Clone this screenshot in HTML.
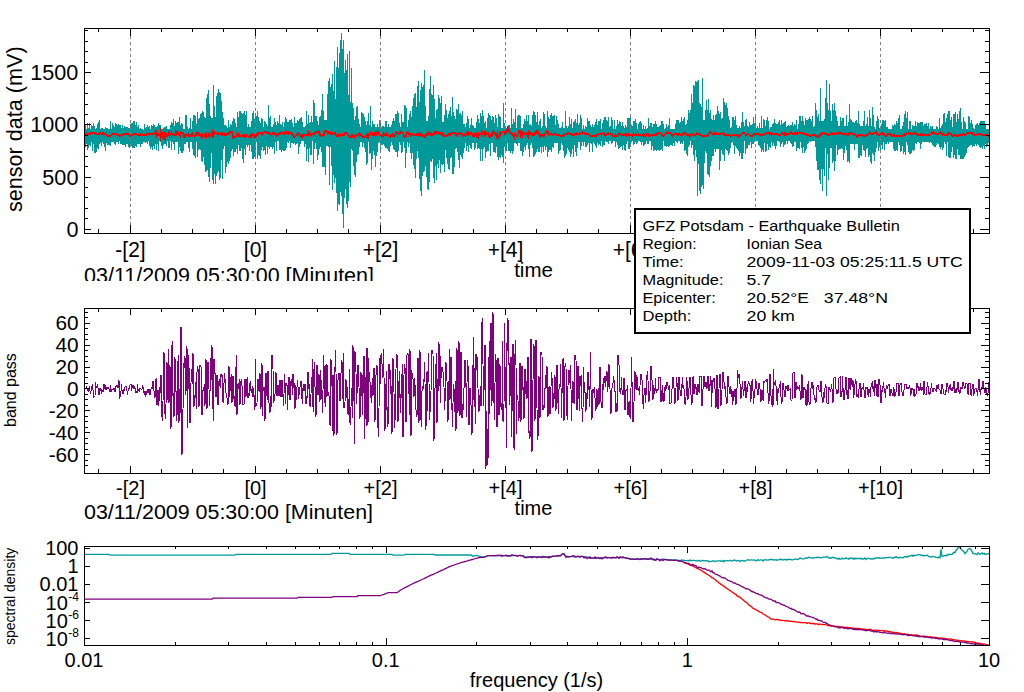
<!DOCTYPE html>
<html><head><meta charset="utf-8"><style>html,body{margin:0;padding:0;background:#fff;}svg{display:block}</style></head>
<body><svg width="1024" height="692" viewBox="0 0 1024 692" font-family="'Liberation Sans', sans-serif" fill="#000">
<rect width="1024" height="692" fill="#fff"/>
<path d="M85.5 124V147M86.5 129V144M87.5 123V150M88.5 128V148M89.5 123V145M90.5 129V146M91.5 125V142M92.5 126V151M93.5 123V144M94.5 126V153M95.5 129V153M96.5 128V152M97.5 124V148M98.5 122V149M99.5 120V144M100.5 129V143M101.5 128V146M102.5 128V142M103.5 129V144M104.5 129V147M105.5 127V151M106.5 128V143M107.5 128V145M108.5 129V145M109.5 129V145M110.5 121V146M111.5 129V142M112.5 123V142M113.5 125V142M114.5 127V144M115.5 123V145M116.5 124V142M117.5 125V142M118.5 124V144M119.5 125V141M120.5 125V144M121.5 128V144M122.5 125V145M123.5 128V145M124.5 126V145M125.5 127V147M126.5 127V144M127.5 127V144M128.5 128V147M129.5 128V148M130.5 124V146M131.5 123V146M132.5 123V148M133.5 121V148M134.5 121V148M135.5 125V146M136.5 122V147M137.5 127V144M138.5 125V144M139.5 129V144M140.5 128V147M141.5 129V144M142.5 129V144M143.5 130V142M144.5 124V142M145.5 128V143M146.5 127V142M147.5 125V144M148.5 127V141M149.5 126V146M150.5 129V149M151.5 125V147M152.5 126V150M153.5 124V146M154.5 125V149M155.5 127V144M156.5 127V150M157.5 126V144M158.5 123V151M159.5 125V141M160.5 125V142M161.5 129V146M162.5 129V149M163.5 128V145M164.5 127V144M165.5 127V144M166.5 126V146M167.5 129V141M168.5 129V148M169.5 129V148M170.5 125V141M171.5 122V150M172.5 123V142M173.5 119V144M174.5 126V150M175.5 121V142M176.5 123V142M177.5 122V142M178.5 122V154M179.5 117V147M180.5 125V151M181.5 123V153M182.5 124V153M183.5 129V151M184.5 129V144M185.5 115V144M186.5 115V142M187.5 127V142M188.5 129V148M189.5 128V152M190.5 118V142M191.5 129V142M192.5 121V149M193.5 115V155M194.5 115V156M195.5 116V158M196.5 124V142M197.5 112V157M198.5 119V150M199.5 118V149M200.5 114V150M201.5 113V161M202.5 111V162M203.5 112V157M204.5 117V165M205.5 118V172M206.5 98V171M207.5 94V170M208.5 90V177M209.5 104V182M210.5 116V168M211.5 118V153M212.5 118V180M213.5 85V184M214.5 106V174M215.5 117V184M216.5 96V176M217.5 93V173M218.5 89V171M219.5 92V180M220.5 93V178M221.5 101V160M222.5 112V179M223.5 118V149M224.5 125V146M225.5 125V173M226.5 126V167M227.5 128V162M228.5 120V164M229.5 127V161M230.5 124V158M231.5 125V151M232.5 121V149M233.5 118V156M234.5 119V152M235.5 123V152M236.5 127V149M237.5 112V154M238.5 117V145M239.5 111V151M240.5 111V151M241.5 113V148M242.5 114V159M243.5 113V163M244.5 111V149M245.5 115V155M246.5 111V145M247.5 127V147M248.5 124V145M249.5 127V151M250.5 127V145M251.5 121V152M252.5 113V159M253.5 111V159M254.5 119V157M255.5 113V158M256.5 116V142M257.5 111V159M258.5 117V155M259.5 121V156M260.5 123V159M261.5 118V150M262.5 119V147M263.5 127V151M264.5 121V150M265.5 122V155M266.5 124V146M267.5 126V154M268.5 105V147M269.5 118V149M270.5 116V147M271.5 127V147M272.5 127V149M273.5 124V147M274.5 118V154M275.5 122V142M276.5 125V151M277.5 121V141M278.5 123V141M279.5 115V150M280.5 124V150M281.5 125V152M282.5 122V150M283.5 127V151M284.5 122V151M285.5 117V150M286.5 119V148M287.5 122V142M288.5 122V143M289.5 120V141M290.5 120V148M291.5 119V143M292.5 123V143M293.5 127V144M294.5 117V143M295.5 123V145M296.5 123V144M297.5 120V143M298.5 121V154M299.5 119V147M300.5 118V144M301.5 117V141M302.5 122V141M303.5 127V141M304.5 127V147M305.5 126V144M306.5 111V161M307.5 124V149M308.5 115V162M309.5 123V148M310.5 122V155M311.5 116V155M312.5 122V141M313.5 100V164M314.5 103V149M315.5 116V143M316.5 116V149M317.5 121V160M318.5 125V155M319.5 117V149M320.5 116V147M321.5 110V152M322.5 94V167M323.5 111V167M324.5 120V167M325.5 120V175M326.5 120V146M327.5 94V146M328.5 81V147M329.5 78V185M330.5 87V147M331.5 84V166M332.5 74V190M333.5 91V175M334.5 61V183M335.5 99V178M336.5 67V193M337.5 47V211M338.5 68V204M339.5 53V205M340.5 40V192M341.5 33V196M342.5 49V214M343.5 40V228M344.5 73V198M345.5 60V189M346.5 70V204M347.5 54V208M348.5 95V201M349.5 51V182M350.5 102V187M351.5 68V149M352.5 103V151M353.5 108V166M354.5 120V175M355.5 116V177M356.5 107V162M357.5 106V155M358.5 119V154M359.5 124V147M360.5 127V142M361.5 112V142M362.5 113V147M363.5 114V143M364.5 117V148M365.5 121V152M366.5 125V165M367.5 121V163M368.5 113V142M369.5 125V154M370.5 106V153M371.5 127V170M372.5 121V159M373.5 124V151M374.5 124V155M375.5 127V167M376.5 127V156M377.5 124V152M378.5 127V143M379.5 120V142M380.5 121V150M381.5 127V145M382.5 126V145M383.5 126V144M384.5 127V146M385.5 121V148M386.5 121V148M387.5 127V149M388.5 124V151M389.5 127V152M390.5 127V146M391.5 125V142M392.5 121V145M393.5 118V149M394.5 121V150M395.5 114V152M396.5 114V152M397.5 111V157M398.5 113V151M399.5 123V142M400.5 127V145M401.5 114V153M402.5 122V152M403.5 122V142M404.5 105V148M405.5 106V168M406.5 108V153M407.5 127V142M408.5 120V147M409.5 114V143M410.5 111V153M411.5 117V159M412.5 106V153M413.5 98V165M414.5 94V169M415.5 93V178M416.5 107V159M417.5 86V151M418.5 81V158M419.5 102V179M420.5 90V191M421.5 83V196M422.5 87V176M423.5 85V172M424.5 70V171M425.5 106V166M426.5 121V177M427.5 121V189M428.5 116V190M429.5 89V182M430.5 76V161M431.5 94V162M432.5 95V159M433.5 85V178M434.5 99V183M435.5 118V166M436.5 110V180M437.5 109V164M438.5 95V168M439.5 98V160M440.5 103V173M441.5 96V164M442.5 122V165M443.5 122V164M444.5 115V172M445.5 104V150M446.5 110V158M447.5 118V164M448.5 114V169M449.5 111V170M450.5 107V158M451.5 116V157M452.5 97V174M453.5 112V174M454.5 116V167M455.5 119V149M456.5 109V148M457.5 110V152M458.5 104V160M459.5 114V168M460.5 113V155M461.5 115V157M462.5 111V159M463.5 124V153M464.5 124V148M465.5 127V143M466.5 123V151M467.5 116V146M468.5 119V152M469.5 128V145M470.5 125V148M471.5 118V149M472.5 125V143M473.5 126V143M474.5 128V150M475.5 128V148M476.5 122V143M477.5 115V149M478.5 119V148M479.5 123V149M480.5 113V161M481.5 116V149M482.5 110V161M483.5 116V149M484.5 123V147M485.5 121V158M486.5 128V152M487.5 118V151M488.5 113V151M489.5 115V144M490.5 116V156M491.5 120V143M492.5 116V143M493.5 117V152M494.5 123V152M495.5 115V153M496.5 118V147M497.5 127V157M498.5 114V160M499.5 116V157M500.5 117V158M501.5 128V155M502.5 128V157M503.5 103V163M504.5 123V147M505.5 128V152M506.5 128V151M507.5 127V143M508.5 125V151M509.5 125V151M510.5 128V153M511.5 108V151M512.5 124V154M513.5 119V151M514.5 122V143M515.5 109V143M516.5 128V144M517.5 116V146M518.5 115V143M519.5 115V143M520.5 116V151M521.5 128V151M522.5 128V156M523.5 124V152M524.5 119V147M525.5 121V150M526.5 115V145M527.5 121V143M528.5 115V149M529.5 125V157M530.5 124V145M531.5 126V143M532.5 115V148M533.5 111V157M534.5 112V156M535.5 115V154M536.5 122V152M537.5 112V149M538.5 125V152M539.5 121V152M540.5 119V147M541.5 128V153M542.5 126V147M543.5 112V152M544.5 114V146M545.5 126V150M546.5 128V147M547.5 111V157M548.5 117V152M549.5 119V150M550.5 115V150M551.5 113V152M552.5 116V147M553.5 116V148M554.5 115V143M555.5 125V143M556.5 116V143M557.5 120V143M558.5 124V154M559.5 128V151M560.5 128V150M561.5 127V143M562.5 122V145M563.5 128V151M564.5 128V158M565.5 111V156M566.5 126V154M567.5 128V148M568.5 126V150M569.5 117V152M570.5 124V157M571.5 119V154M572.5 128V149M573.5 122V157M574.5 121V145M575.5 119V152M576.5 123V156M577.5 114V148M578.5 125V142M579.5 123V142M580.5 115V150M581.5 118V146M582.5 129V142M583.5 125V146M584.5 129V142M585.5 126V147M586.5 127V147M587.5 118V145M588.5 121V143M589.5 121V152M590.5 125V143M591.5 127V144M592.5 124V152M593.5 127V142M594.5 125V144M595.5 122V146M596.5 119V148M597.5 125V143M598.5 121V145M599.5 121V144M600.5 119V146M601.5 129V141M602.5 123V147M603.5 120V145M604.5 117V145M605.5 117V141M606.5 120V142M607.5 121V142M608.5 117V144M609.5 127V141M610.5 126V141M611.5 117V144M612.5 120V143M613.5 129V141M614.5 120V141M615.5 129V147M616.5 126V142M617.5 120V145M618.5 124V149M619.5 121V148M620.5 122V147M621.5 126V146M622.5 122V150M623.5 126V145M624.5 128V150M625.5 125V151M626.5 127V144M627.5 118V141M628.5 118V149M629.5 118V149M630.5 117V146M631.5 125V142M632.5 126V141M633.5 121V145M634.5 121V144M635.5 119V142M636.5 123V144M637.5 129V143M638.5 124V141M639.5 122V141M640.5 121V142M641.5 123V145M642.5 129V142M643.5 125V146M644.5 129V145M645.5 126V144M646.5 129V141M647.5 128V144M648.5 118V144M649.5 126V141M650.5 123V141M651.5 123V150M652.5 127V146M653.5 124V151M654.5 124V150M655.5 121V150M656.5 124V151M657.5 127V150M658.5 127V150M659.5 126V151M660.5 125V150M661.5 121V149M662.5 121V151M663.5 124V141M664.5 129V146M665.5 128V146M666.5 124V147M667.5 127V146M668.5 125V147M669.5 118V146M670.5 129V145M671.5 129V145M672.5 129V146M673.5 129V143M674.5 129V146M675.5 124V141M676.5 120V142M677.5 120V143M678.5 120V141M679.5 123V141M680.5 122V144M681.5 117V143M682.5 121V144M683.5 119V141M684.5 117V151M685.5 125V150M686.5 124V154M687.5 120V156M688.5 110V147M689.5 113V145M690.5 110V141M691.5 94V148M692.5 103V145M693.5 85V155M694.5 86V161M695.5 81V150M696.5 82V157M697.5 81V196M698.5 80V164M699.5 103V191M700.5 104V194M701.5 107V187M702.5 78V185M703.5 120V189M704.5 120V163M705.5 110V151M706.5 100V153M707.5 110V174M708.5 99V175M709.5 113V177M710.5 110V166M711.5 119V161M712.5 120V156M713.5 115V156M714.5 120V149M715.5 115V152M716.5 114V149M717.5 106V149M718.5 111V149M719.5 114V170M720.5 112V161M721.5 119V150M722.5 118V154M723.5 98V155M724.5 102V161M725.5 105V149M726.5 103V150M727.5 108V151M728.5 116V155M729.5 120V153M730.5 128V148M731.5 127V143M732.5 117V142M733.5 117V145M734.5 120V154M735.5 116V146M736.5 125V148M737.5 128V149M738.5 128V151M739.5 126V156M740.5 128V153M741.5 122V159M742.5 112V159M743.5 122V153M744.5 126V141M745.5 120V154M746.5 119V149M747.5 126V148M748.5 127V145M749.5 122V145M750.5 125V142M751.5 125V148M752.5 124V144M753.5 117V144M754.5 123V142M755.5 115V141M756.5 128V141M757.5 126V141M758.5 128V145M759.5 123V146M760.5 128V148M761.5 116V152M762.5 128V150M763.5 119V152M764.5 120V143M765.5 126V152M766.5 120V151M767.5 117V144M768.5 121V150M769.5 129V147M770.5 127V148M771.5 127V142M772.5 124V146M773.5 123V143M774.5 119V146M775.5 123V149M776.5 124V146M777.5 124V141M778.5 122V141M779.5 120V142M780.5 125V147M781.5 120V144M782.5 124V142M783.5 123V147M784.5 122V145M785.5 121V144M786.5 127V141M787.5 126V144M788.5 125V141M789.5 126V141M790.5 125V143M791.5 125V144M792.5 122V147M793.5 126V146M794.5 124V142M795.5 125V142M796.5 120V151M797.5 129V148M798.5 124V148M799.5 116V149M800.5 116V142M801.5 121V148M802.5 116V153M803.5 121V147M804.5 125V153M805.5 118V151M806.5 120V149M807.5 120V144M808.5 119V143M809.5 117V141M810.5 119V142M811.5 121V141M812.5 116V141M813.5 127V141M814.5 126V141M815.5 103V147M816.5 110V161M817.5 117V170M818.5 114V170M819.5 121V180M820.5 88V184M821.5 121V169M822.5 121V191M823.5 121V169M824.5 119V176M825.5 98V148M826.5 80V196M827.5 103V154M828.5 110V180M829.5 84V168M830.5 111V148M831.5 121V148M832.5 104V163M833.5 110V161M834.5 103V171M835.5 111V161M836.5 116V145M837.5 121V155M838.5 126V150M839.5 126V149M840.5 117V149M841.5 121V148M842.5 118V149M843.5 118V160M844.5 126V153M845.5 126V146M846.5 115V150M847.5 126V162M848.5 122V161M849.5 104V163M850.5 119V144M851.5 120V144M852.5 122V144M853.5 122V144M854.5 123V150M855.5 121V144M856.5 120V144M857.5 123V144M858.5 111V158M859.5 124V158M860.5 126V155M861.5 126V156M862.5 126V145M863.5 121V150M864.5 111V151M865.5 126V157M866.5 124V149M867.5 117V148M868.5 126V157M869.5 110V155M870.5 118V162M871.5 126V164M872.5 107V153M873.5 115V155M874.5 127V161M875.5 129V152M876.5 121V148M877.5 116V142M878.5 119V151M879.5 128V147M880.5 127V152M881.5 124V145M882.5 120V149M883.5 120V142M884.5 121V150M885.5 120V144M886.5 127V144M887.5 127V142M888.5 129V144M889.5 129V142M890.5 129V142M891.5 129V142M892.5 125V142M893.5 126V149M894.5 124V151M895.5 125V151M896.5 121V150M897.5 123V151M898.5 118V142M899.5 115V145M900.5 129V152M901.5 129V151M902.5 126V146M903.5 122V154M904.5 114V152M905.5 111V155M906.5 118V142M907.5 112V145M908.5 129V152M909.5 121V154M910.5 121V154M911.5 129V153M912.5 125V150M913.5 126V151M914.5 126V150M915.5 121V143M916.5 126V144M917.5 122V142M918.5 123V142M919.5 123V143M920.5 122V149M921.5 122V144M922.5 122V142M923.5 126V142M924.5 124V142M925.5 124V142M926.5 123V142M927.5 126V142M928.5 123V142M929.5 129V143M930.5 126V142M931.5 127V143M932.5 126V145M933.5 129V146M934.5 129V147M935.5 129V147M936.5 126V145M937.5 127V143M938.5 129V144M939.5 118V147M940.5 128V149M941.5 126V147M942.5 124V150M943.5 114V148M944.5 113V142M945.5 122V144M946.5 118V156M947.5 114V142M948.5 111V157M949.5 111V158M950.5 120V158M951.5 117V152M952.5 127V147M953.5 114V158M954.5 114V155M955.5 112V159M956.5 122V159M957.5 114V149M958.5 119V155M959.5 111V155M960.5 108V159M961.5 122V159M962.5 129V159M963.5 117V159M964.5 121V157M965.5 123V155M966.5 129V153M967.5 129V148M968.5 116V147M969.5 117V146M970.5 123V145M971.5 120V145M972.5 124V147M973.5 128V146M974.5 129V146M975.5 125V144M976.5 124V146M977.5 123V144M978.5 125V145M979.5 123V147M980.5 121V148M981.5 121V147M982.5 121V149M983.5 121V146M984.5 121V149M985.5 125V144M986.5 129V147M987.5 129V146M988.5 129V143" stroke="#009999" fill="none" shape-rendering="crispEdges"/>
<path d="M130.5 36V225M255.5 36V225M380.5 36V225M505.5 36V225M630.5 36V225M755.5 36V225M880.5 36V225" stroke="#808080" stroke-dasharray="3 3" fill="none"/>
<path d="M85.5 133V135M86.5 133V135M87.5 133V135M88.5 133V135M89.5 133V135M90.5 132V135M91.5 132V134M92.5 132V134M93.5 132V134M94.5 132V134M95.5 133V135M96.5 133V135M97.5 134V136M98.5 133V135M99.5 132V135M100.5 132V134M101.5 133V135M102.5 132V135M103.5 132V135M104.5 133V135M105.5 133V135M106.5 134V136M107.5 135V137M108.5 135V137M109.5 135V137M110.5 135V137M111.5 134V136M112.5 133V135M113.5 133V135M114.5 133V135M115.5 133V135M116.5 133V135M117.5 134V136M118.5 134V136M119.5 135V137M120.5 135V137M121.5 134V136M122.5 134V136M123.5 133V135M124.5 133V135M125.5 133V135M126.5 133V135M127.5 133V135M128.5 133V135M129.5 134V137M130.5 135V137M131.5 134V136M132.5 134V136M133.5 133V135M134.5 133V135M135.5 133V135M136.5 133V135M137.5 134V136M138.5 134V136M139.5 134V136M140.5 133V136M141.5 134V136M142.5 134V136M143.5 134V136M144.5 134V136M145.5 134V136M146.5 133V136M147.5 133V135M148.5 133V135M149.5 132V135M150.5 133V135M151.5 133V135M152.5 133V135M153.5 133V135M154.5 132V134M155.5 131V135M156.5 130V138M157.5 133V136M158.5 133V136M159.5 134V136M160.5 128V141M161.5 132V138M162.5 132V138M163.5 131V140M164.5 132V140M165.5 129V143M166.5 133V137M167.5 134V137M168.5 131V136M169.5 131V137M170.5 133V135M171.5 130V138M172.5 133V135M173.5 133V137M174.5 134V136M175.5 129V136M176.5 131V136M177.5 130V135M178.5 132V135M179.5 133V136M180.5 131V138M181.5 132V135M182.5 132V134M183.5 132V138M184.5 134V138M185.5 134V138M186.5 134V136M187.5 134V136M188.5 133V137M189.5 134V138M190.5 135V137M191.5 133V136M192.5 132V137M193.5 134V136M194.5 135V137M195.5 133V138M196.5 132V136M197.5 131V135M198.5 132V136M199.5 133V136M200.5 134V137M201.5 134V138M202.5 133V139M203.5 135V137M204.5 134V137M205.5 133V138M206.5 132V139M207.5 135V137M208.5 133V137M209.5 132V139M210.5 134V136M211.5 132V137M212.5 129V138M213.5 131V138M214.5 131V135M215.5 132V134M216.5 132V134M217.5 133V137M218.5 132V135M219.5 133V135M220.5 133V135M221.5 132V135M222.5 132V136M223.5 133V135M224.5 133V136M225.5 134V136M226.5 133V136M227.5 133V135M228.5 132V135M229.5 130V135M230.5 131V133M231.5 131V134M232.5 131V139M233.5 135V139M234.5 136V138M235.5 136V138M236.5 133V137M237.5 134V136M238.5 132V137M239.5 134V138M240.5 135V137M241.5 135V137M242.5 134V137M243.5 135V137M244.5 134V138M245.5 134V138M246.5 134V137M247.5 135V137M248.5 136V138M249.5 135V138M250.5 134V138M251.5 133V138M252.5 133V136M253.5 134V137M254.5 134V139M255.5 134V138M256.5 133V137M257.5 133V136M258.5 132V135M259.5 131V134M260.5 132V134M261.5 132V135M262.5 132V136M263.5 132V134M264.5 131V133M265.5 131V133M266.5 132V134M267.5 131V134M268.5 132V134M269.5 131V137M270.5 133V135M271.5 134V136M272.5 132V135M273.5 132V134M274.5 132V135M275.5 133V135M276.5 134V137M277.5 133V136M278.5 133V135M279.5 132V135M280.5 132V135M281.5 131V134M282.5 132V134M283.5 132V135M284.5 131V135M285.5 132V134M286.5 131V134M287.5 132V134M288.5 131V135M289.5 132V134M290.5 132V134M291.5 132V135M292.5 133V136M293.5 134V138M294.5 136V138M295.5 135V137M296.5 134V136M297.5 133V136M298.5 132V135M299.5 133V137M300.5 135V137M301.5 134V138M302.5 134V139M303.5 134V137M304.5 134V136M305.5 134V137M306.5 134V136M307.5 133V136M308.5 130V136M309.5 132V135M310.5 133V137M311.5 134V136M312.5 133V135M313.5 133V136M314.5 132V135M315.5 131V134M316.5 131V133M317.5 130V133M318.5 131V134M319.5 130V136M320.5 133V136M321.5 135V137M322.5 134V137M323.5 133V136M324.5 130V136M325.5 130V133M326.5 130V132M327.5 131V134M328.5 131V134M329.5 132V134M330.5 131V135M331.5 132V135M332.5 132V135M333.5 133V135M334.5 132V134M335.5 132V136M336.5 134V137M337.5 135V137M338.5 133V137M339.5 134V136M340.5 134V137M341.5 134V136M342.5 133V136M343.5 134V136M344.5 132V136M345.5 132V134M346.5 132V134M347.5 133V135M348.5 134V137M349.5 135V138M350.5 136V138M351.5 134V138M352.5 134V138M353.5 135V137M354.5 135V139M355.5 135V137M356.5 134V137M357.5 134V136M358.5 133V135M359.5 132V138M360.5 133V136M361.5 134V137M362.5 135V138M363.5 136V138M364.5 136V138M365.5 135V138M366.5 134V137M367.5 133V139M368.5 133V139M369.5 134V136M370.5 131V135M371.5 133V135M372.5 132V136M373.5 133V136M374.5 132V136M375.5 131V137M376.5 132V136M377.5 130V134M378.5 131V135M379.5 132V135M380.5 134V136M381.5 134V138M382.5 135V137M383.5 132V137M384.5 133V136M385.5 134V136M386.5 132V136M387.5 133V136M388.5 135V137M389.5 135V137M390.5 134V138M391.5 134V137M392.5 133V137M393.5 133V137M394.5 135V137M395.5 132V136M396.5 131V134M397.5 132V135M398.5 133V135M399.5 131V134M400.5 131V134M401.5 131V133M402.5 132V134M403.5 133V137M404.5 135V138M405.5 135V137M406.5 131V137M407.5 132V134M408.5 132V135M409.5 133V135M410.5 133V137M411.5 134V136M412.5 133V135M413.5 134V136M414.5 134V136M415.5 134V136M416.5 133V136M417.5 132V137M418.5 133V136M419.5 131V137M420.5 133V136M421.5 132V136M422.5 134V137M423.5 135V137M424.5 135V138M425.5 134V138M426.5 133V136M427.5 133V136M428.5 131V135M429.5 132V135M430.5 133V136M431.5 132V137M432.5 133V136M433.5 133V135M434.5 131V135M435.5 131V135M436.5 131V134M437.5 131V133M438.5 132V134M439.5 131V135M440.5 132V135M441.5 133V136M442.5 132V136M443.5 133V137M444.5 135V137M445.5 134V137M446.5 135V137M447.5 134V136M448.5 133V136M449.5 132V135M450.5 133V136M451.5 132V135M452.5 132V134M453.5 131V134M454.5 132V134M455.5 132V136M456.5 133V137M457.5 132V136M458.5 133V135M459.5 131V135M460.5 132V134M461.5 132V135M462.5 133V137M463.5 134V136M464.5 134V136M465.5 133V137M466.5 132V135M467.5 131V136M468.5 131V136M469.5 132V135M470.5 132V135M471.5 132V135M472.5 133V137M473.5 134V137M474.5 133V137M475.5 133V136M476.5 132V137M477.5 134V138M478.5 132V139M479.5 134V136M480.5 133V135M481.5 131V137M482.5 130V135M483.5 132V135M484.5 131V137M485.5 131V136M486.5 132V135M487.5 133V135M488.5 132V137M489.5 134V139M490.5 134V138M491.5 133V137M492.5 131V136M493.5 129V135M494.5 132V134M495.5 132V136M496.5 133V139M497.5 131V141M498.5 135V138M499.5 132V140M500.5 131V136M501.5 132V134M502.5 131V133M503.5 130V132M504.5 131V135M505.5 130V135M506.5 129V133M507.5 126V134M508.5 127V132M509.5 129V133M510.5 132V134M511.5 132V135M512.5 133V136M513.5 135V137M514.5 132V140M515.5 134V136M516.5 135V137M517.5 134V137M518.5 130V135M519.5 130V134M520.5 130V138M521.5 131V136M522.5 131V138M523.5 132V135M524.5 133V135M525.5 133V136M526.5 132V135M527.5 132V137M528.5 130V139M529.5 132V136M530.5 132V135M531.5 132V135M532.5 133V136M533.5 133V137M534.5 132V136M535.5 131V135M536.5 130V134M537.5 129V134M538.5 131V135M539.5 133V137M540.5 134V138M541.5 134V137M542.5 134V136M543.5 134V137M544.5 133V137M545.5 132V135M546.5 130V133M547.5 131V134M548.5 131V136M549.5 133V135M550.5 133V135M551.5 133V135M552.5 134V136M553.5 133V135M554.5 133V135M555.5 133V135M556.5 134V136M557.5 134V136M558.5 134V136M559.5 134V136M560.5 135V137M561.5 135V137M562.5 135V137M563.5 133V137M564.5 134V136M565.5 133V135M566.5 133V135M567.5 132V135M568.5 132V134M569.5 133V135M570.5 133V135M571.5 133V135M572.5 134V136M573.5 134V136M574.5 133V136M575.5 133V135M576.5 132V135M577.5 133V135M578.5 133V135M579.5 133V135M580.5 133V135M581.5 132V134M582.5 131V134M583.5 132V134M584.5 132V135M585.5 133V135M586.5 133V135M587.5 133V135M588.5 133V135M589.5 134V136M590.5 135V137M591.5 135V137M592.5 135V137M593.5 135V137M594.5 135V137M595.5 135V138M596.5 134V137M597.5 134V136M598.5 133V135M599.5 133V135M600.5 133V135M601.5 133V135M602.5 132V134M603.5 133V135M604.5 133V136M605.5 133V137M606.5 134V136M607.5 133V135M608.5 132V135M609.5 133V135M610.5 133V135M611.5 133V135M612.5 134V137M613.5 135V137M614.5 135V137M615.5 133V138M616.5 135V137M617.5 134V137M618.5 133V135M619.5 132V136M620.5 133V135M621.5 134V137M622.5 134V136M623.5 134V136M624.5 134V136M625.5 133V136M626.5 133V137M627.5 134V136M628.5 133V136M629.5 134V136M630.5 134V136M631.5 134V136M632.5 134V137M633.5 133V136M634.5 134V136M635.5 134V136M636.5 133V136M637.5 134V136M638.5 134V136M639.5 134V136M640.5 134V136M641.5 135V137M642.5 134V136M643.5 133V137M644.5 134V137M645.5 135V137M646.5 133V136M647.5 133V135M648.5 133V137M649.5 134V136M650.5 135V137M651.5 134V136M652.5 134V136M653.5 134V136M654.5 134V136M655.5 133V136M656.5 133V136M657.5 132V135M658.5 132V134M659.5 131V133M660.5 132V134M661.5 133V136M662.5 134V137M663.5 135V137M664.5 134V136M665.5 133V135M666.5 131V134M667.5 132V134M668.5 132V134M669.5 131V134M670.5 132V134M671.5 133V136M672.5 134V137M673.5 134V136M674.5 133V135M675.5 133V135M676.5 133V135M677.5 133V136M678.5 133V136M679.5 133V135M680.5 134V136M681.5 134V136M682.5 133V136M683.5 132V135M684.5 132V134M685.5 132V134M686.5 133V136M687.5 134V136M688.5 134V136M689.5 135V137M690.5 134V137M691.5 133V136M692.5 133V135M693.5 134V136M694.5 134V136M695.5 134V136M696.5 132V135M697.5 133V135M698.5 133V135M699.5 133V136M700.5 134V136M701.5 135V137M702.5 135V137M703.5 135V138M704.5 135V137M705.5 135V137M706.5 135V137M707.5 134V137M708.5 133V136M709.5 131V134M710.5 131V133M711.5 132V134M712.5 133V135M713.5 133V136M714.5 132V135M715.5 133V135M716.5 132V135M717.5 133V135M718.5 133V135M719.5 133V136M720.5 133V135M721.5 133V135M722.5 132V134M723.5 133V135M724.5 133V136M725.5 134V136M726.5 134V136M727.5 134V136M728.5 134V136M729.5 134V136M730.5 135V137M731.5 135V137M732.5 134V136M733.5 134V136M734.5 134V136M735.5 134V136M736.5 134V136M737.5 134V137M738.5 135V138M739.5 134V137M740.5 134V136M741.5 133V135M742.5 132V134M743.5 131V134M744.5 132V134M745.5 133V136M746.5 134V136M747.5 133V135M748.5 133V135M749.5 134V136M750.5 135V137M751.5 135V137M752.5 135V137M753.5 133V136M754.5 133V135M755.5 133V136M756.5 133V135M757.5 133V135M758.5 133V135M759.5 134V136M760.5 134V136M761.5 134V136M762.5 134V136M763.5 134V136M764.5 133V135M765.5 133V135M766.5 132V134M767.5 132V134M768.5 132V134M769.5 132V135M770.5 132V135M771.5 132V136M772.5 133V135M773.5 133V135M774.5 133V135M775.5 133V135M776.5 133V135M777.5 133V135M778.5 134V136M779.5 134V136M780.5 134V136M781.5 132V135M782.5 132V134M783.5 133V135M784.5 132V136M785.5 132V136M786.5 133V136M787.5 133V135M788.5 133V135M789.5 133V135M790.5 131V134M791.5 132V134M792.5 133V135M793.5 133V135M794.5 132V135M795.5 132V135M796.5 132V135M797.5 132V135M798.5 132V134M799.5 131V133M800.5 132V134M801.5 132V134M802.5 132V134M803.5 133V135M804.5 133V135M805.5 133V135M806.5 133V136M807.5 134V136M808.5 134V136M809.5 135V137M810.5 135V137M811.5 135V137M812.5 134V136M813.5 134V136M814.5 134V136M815.5 134V137M816.5 135V137M817.5 135V138M818.5 136V138M819.5 134V137M820.5 133V136M821.5 133V135M822.5 132V135M823.5 132V134M824.5 132V134M825.5 133V135M826.5 133V135M827.5 134V136M828.5 134V136M829.5 134V136M830.5 133V135M831.5 132V134M832.5 132V135M833.5 133V135M834.5 133V135M835.5 133V135M836.5 132V135M837.5 133V135M838.5 132V134M839.5 131V135M840.5 132V134M841.5 132V135M842.5 133V135M843.5 133V135M844.5 133V135M845.5 132V136M846.5 133V135M847.5 134V136M848.5 133V136M849.5 132V135M850.5 132V134M851.5 132V134M852.5 133V135M853.5 133V135M854.5 133V135M855.5 134V136M856.5 135V138M857.5 135V137M858.5 134V137M859.5 134V136M860.5 134V136M861.5 134V136M862.5 134V136M863.5 135V137M864.5 135V137M865.5 135V137M866.5 134V136M867.5 134V136M868.5 133V135M869.5 131V134M870.5 132V134M871.5 133V135M872.5 133V135M873.5 133V135M874.5 132V134M875.5 131V133M876.5 131V135M877.5 133V135M878.5 134V136M879.5 134V136M880.5 133V135M881.5 132V134M882.5 132V135M883.5 133V135M884.5 133V136M885.5 135V137M886.5 135V137M887.5 133V136M888.5 133V135M889.5 133V135M890.5 133V136M891.5 134V137M892.5 135V137M893.5 134V136M894.5 134V137M895.5 135V137M896.5 135V137M897.5 135V138M898.5 135V137M899.5 135V137M900.5 135V137M901.5 135V137M902.5 135V137M903.5 134V136M904.5 133V136M905.5 134V136M906.5 133V135M907.5 132V134M908.5 132V134M909.5 132V134M910.5 132V135M911.5 133V135M912.5 133V135M913.5 132V135M914.5 132V134M915.5 132V135M916.5 133V135M917.5 133V136M918.5 134V136M919.5 134V136M920.5 133V136M921.5 133V136M922.5 134V136M923.5 134V136M924.5 134V136M925.5 134V136M926.5 134V136M927.5 134V136M928.5 134V136M929.5 134V136M930.5 133V135M931.5 132V134M932.5 131V134M933.5 132V134M934.5 132V134M935.5 133V135M936.5 133V135M937.5 133V135M938.5 133V135M939.5 132V134M940.5 131V134M941.5 132V135M942.5 133V136M943.5 133V135M944.5 134V136M945.5 134V136M946.5 134V136M947.5 133V136M948.5 132V135M949.5 132V134M950.5 133V135M951.5 133V136M952.5 135V137M953.5 134V137M954.5 134V136M955.5 134V136M956.5 135V137M957.5 135V137M958.5 134V137M959.5 134V136M960.5 134V136M961.5 134V136M962.5 133V136M963.5 133V135M964.5 134V136M965.5 134V136M966.5 133V135M967.5 132V134M968.5 132V134M969.5 132V134M970.5 132V134M971.5 132V134M972.5 132V135M973.5 133V135M974.5 134V136M975.5 134V136M976.5 134V136M977.5 132V135M978.5 133V135M979.5 133V135M980.5 133V135M981.5 133V136M982.5 134V136M983.5 134V136M984.5 134V136M985.5 134V136M986.5 134V136M987.5 134V136M988.5 135V137" stroke="#ff0000" stroke-width="1" fill="none" shape-rendering="crispEdges"/>
<rect x="84.5" y="28.5" width="905" height="205" fill="none" stroke="#000"/>
<path d="M98.5 233v-4M98.5 29v3M130.5 233v-8M130.5 29v7M161.5 233v-4M161.5 29v3M192.5 233v-4M192.5 29v3M223.5 233v-4M223.5 29v3M255.5 233v-8M255.5 29v7M286.5 233v-4M286.5 29v3M317.5 233v-4M317.5 29v3M348.5 233v-4M348.5 29v3M380.5 233v-8M380.5 29v7M411.5 233v-4M411.5 29v3M442.5 233v-4M442.5 29v3M473.5 233v-4M473.5 29v3M505.5 233v-8M505.5 29v7M536.5 233v-4M536.5 29v3M567.5 233v-4M567.5 29v3M598.5 233v-4M598.5 29v3M630.5 233v-8M630.5 29v7M661.5 233v-4M661.5 29v3M692.5 233v-4M692.5 29v3M723.5 233v-4M723.5 29v3M755.5 233v-8M755.5 29v7M786.5 233v-4M786.5 29v3M817.5 233v-4M817.5 29v3M848.5 233v-4M848.5 29v3M880.5 233v-8M880.5 29v7M911.5 233v-4M911.5 29v3M942.5 233v-4M942.5 29v3M973.5 233v-4M973.5 29v3" stroke="#000" fill="none"/>
<path d="M85 229.5h6M989 229.5h-9M85 177.5h6M989 177.5h-9M85 124.5h6M989 124.5h-9M85 72.5h6M989 72.5h-9M85 218.5h3M989 218.5h-4M85 208.5h3M989 208.5h-4M85 197.5h3M989 197.5h-4M85 187.5h3M989 187.5h-4M85 166.5h3M989 166.5h-4M85 156.5h3M989 156.5h-4M85 145.5h3M989 145.5h-4M85 135.5h3M989 135.5h-4M85 114.5h3M989 114.5h-4M85 104.5h3M989 104.5h-4M85 93.5h3M989 93.5h-4M85 83.5h3M989 83.5h-4M85 62.5h3M989 62.5h-4M85 51.5h3M989 51.5h-4M85 41.5h3M989 41.5h-4M85 30.5h3M989 30.5h-4" stroke="#000" fill="none"/>
<text x="78.4" y="236.7" font-size="21.6" text-anchor="end" >0</text>
<text x="78.4" y="184.5" font-size="21.6" text-anchor="end" >500</text>
<text x="78.4" y="132.3" font-size="21.6" text-anchor="end" >1000</text>
<text x="78.4" y="80.1" font-size="21.6" text-anchor="end" >1500</text>
<g transform="translate(0,257.3) scale(1,1.07) translate(0,-257.3)">
<text x="130.5" y="257.3" font-size="21" text-anchor="middle" >-[2]</text>
<text x="255.5" y="257.3" font-size="21" text-anchor="middle" >[0]</text>
<text x="380.5" y="257.3" font-size="21" text-anchor="middle" >+[2]</text>
<text x="505.5" y="257.3" font-size="21" text-anchor="middle" >+[4]</text>
<text x="630.5" y="257.3" font-size="21" text-anchor="middle" >+[6]</text>
<text x="755.5" y="257.3" font-size="21" text-anchor="middle" >+[8]</text>
<text x="880.5" y="257.3" font-size="21" text-anchor="middle" >+[10]</text>
</g>
<clipPath id="c1"><rect x="0" y="0" width="1024" height="281"/></clipPath>
<text x="84" y="282.6" font-size="21.6" text-anchor="start" clip-path="url(#c1)" textLength="290" lengthAdjust="spacingAndGlyphs">03/11/2009 05:30:00 [Minuten]</text>
<text x="533.5" y="276.8" font-size="20.5" text-anchor="middle" >time</text>
<text transform="translate(22,212) rotate(-90)" font-size="21.6" >sensor data (mV)</text>
<polyline points="85.5,389 86.0,388 86.5,386 87.0,388 87.5,389 88.0,391 88.5,391 89.0,388 89.5,387 90.0,391 90.5,394 91.0,391 91.5,389 92.0,386 92.5,385 93.0,390 93.5,397 94.0,397 94.5,396 95.0,396 95.5,382 96.0,386 96.5,388 97.0,386 97.5,385 98.0,388 98.5,389 99.0,395 99.5,391 100.0,388 100.5,390 101.0,389 101.5,393 102.0,392 102.5,390 103.0,392 103.5,388 104.0,384 104.5,389 105.0,387 105.5,386 106.0,390 106.5,389 107.0,387 107.5,388 108.0,387 108.5,388 109.0,389 109.5,389 110.0,392 110.5,385 111.0,390 111.5,392 112.0,389 112.5,389 113.0,389 113.5,389 114.0,388 114.5,389 115.0,392 115.5,388 116.0,386 116.5,386 117.0,385 117.5,386 118.0,388 118.5,387 119.0,380 119.5,399 120.0,397 120.5,393 121.0,391 121.5,384 122.0,390 122.5,390 123.0,394 123.5,389 124.0,389 124.5,391 125.0,387 125.5,386 126.0,386 126.5,387 127.0,391 127.5,395 128.0,391 128.5,388 129.0,388 129.5,388 130.0,385 130.5,384 131.0,384 131.5,391 132.0,388 132.5,387 133.0,385 133.5,389 134.0,386 134.5,388 135.0,388 135.5,391 136.0,393 136.5,392 137.0,393 137.5,384 138.0,389 138.5,390 139.0,391 139.5,391 140.0,388 140.5,388 141.0,389 141.5,389 142.0,389 142.5,385 143.0,387 143.5,387 144.0,393 144.5,395 145.0,391 145.5,396 146.0,395 146.5,392 147.0,391 147.5,389 148.0,393 148.5,392 149.0,389 149.5,389 150.0,395 150.5,392 151.0,389 151.5,388 152.0,389 152.5,386 153.0,381 153.5,381 154.0,391 154.5,397 155.0,398 155.5,384 156.0,379 156.5,378 157.0,405 157.5,403 158.0,390 158.5,406 159.0,402 159.5,387 160.0,394 160.5,375 161.0,375 161.5,386 162.0,417 162.5,421 163.0,401 163.5,373 164.0,352 164.5,383 165.0,414 165.5,419 166.0,404 166.5,376 167.0,362 167.5,386 168.0,400 168.5,349 169.0,403 169.5,374 170.0,365 170.5,428 171.0,429 171.5,386 172.0,345 172.5,341 173.0,396 173.5,393 174.0,417 174.5,386 175.0,357 175.5,391 176.0,391 176.5,421 177.0,416 177.5,403 178.0,361 178.5,355 179.0,423 179.5,389 180.0,414 180.5,402 181.0,327 181.5,333 182.0,455 182.5,431 183.0,410 183.5,363 184.0,366 184.5,368 185.0,356 185.5,395 186.0,392 186.5,378 187.0,346 187.5,428 188.0,391 188.5,355 189.0,366 189.5,407 190.0,423 190.5,421 191.0,383 191.5,369 192.0,372 192.5,384 193.0,353 193.5,378 194.0,407 194.5,395 195.0,398 195.5,382 196.0,385 196.5,409 197.0,372 197.5,366 198.0,369 198.5,384 199.0,407 199.5,385 200.0,365 200.5,366 201.0,365 201.5,408 202.0,415 202.5,413 203.0,390 203.5,387 204.0,391 204.5,384 205.0,406 205.5,373 206.0,359 206.5,379 207.0,409 207.5,392 208.0,362 208.5,369 209.0,389 209.5,406 210.0,393 210.5,358 211.0,381 211.5,368 212.0,345 212.5,392 213.0,409 213.5,421 214.0,359 214.5,373 215.0,373 215.5,395 216.0,397 216.5,394 217.0,375 217.5,385 218.0,405 218.5,404 219.0,381 219.5,380 220.0,386 220.5,388 221.0,374 221.5,377 222.0,374 222.5,398 223.0,402 223.5,402 224.0,383 224.5,373 225.0,381 225.5,379 226.0,393 226.5,397 227.0,398 227.5,404 228.0,405 228.5,387 229.0,366 229.5,397 230.0,392 230.5,377 231.0,383 231.5,374 232.0,403 232.5,384 233.0,376 233.5,377 234.0,399 234.5,396 235.0,406 235.5,407 236.0,367 236.5,355 237.0,415 237.5,384 238.0,389 238.5,387 239.0,383 239.5,379 240.0,405 240.5,392 241.0,381 241.5,380 242.0,386 242.5,393 243.0,405 243.5,404 244.0,404 244.5,386 245.0,379 245.5,395 246.0,397 246.5,382 247.0,379 247.5,377 248.0,398 248.5,394 249.0,395 249.5,396 250.0,383 250.5,382 251.0,391 251.5,392 252.0,389 252.5,386 253.0,397 253.5,388 254.0,395 254.5,404 255.0,410 255.5,359 256.0,406 256.5,404 257.0,403 257.5,382 258.0,379 258.5,391 259.0,384 259.5,392 260.0,373 260.5,393 261.0,409 261.5,368 262.0,363 262.5,416 263.0,389 263.5,391 264.0,387 264.5,401 265.0,421 265.5,376 266.0,373 266.5,384 267.0,396 267.5,400 268.0,371 268.5,376 269.0,403 269.5,404 270.0,413 270.5,396 271.0,408 271.5,394 272.0,355 272.5,361 273.0,369 273.5,403 274.0,401 274.5,399 275.0,394 275.5,389 276.0,372 276.5,393 277.0,396 277.5,385 278.0,396 278.5,386 279.0,387 279.5,396 280.0,380 280.5,384 281.0,397 281.5,394 282.0,380 282.5,383 283.0,397 283.5,406 284.0,394 284.5,374 285.0,387 285.5,404 286.0,383 286.5,385 287.0,385 287.5,410 288.0,396 288.5,377 289.0,377 289.5,398 290.0,400 290.5,399 291.0,381 291.5,380 292.0,386 292.5,395 293.0,374 293.5,388 294.0,383 294.5,389 295.0,409 295.5,385 296.0,391 296.5,400 297.0,387 297.5,380 298.0,387 298.5,399 299.0,395 299.5,393 300.0,387 300.5,382 301.0,381 301.5,394 302.0,399 302.5,404 303.0,388 303.5,384 304.0,391 304.5,388 305.0,384 305.5,385 306.0,404 306.5,396 307.0,399 307.5,372 308.0,372 308.5,374 309.0,389 309.5,384 310.0,406 310.5,407 311.0,394 311.5,382 312.0,377 312.5,359 313.0,407 313.5,412 314.0,369 314.5,362 315.0,387 315.5,402 316.0,417 316.5,377 317.0,365 317.5,366 318.0,395 318.5,388 319.0,374 319.5,402 320.0,401 320.5,370 321.0,380 321.5,387 322.0,399 322.5,413 323.0,391 323.5,355 324.0,365 324.5,395 325.0,403 325.5,407 326.0,365 326.5,397 327.0,364 327.5,391 328.0,396 328.5,392 329.0,395 329.5,424 330.0,425 330.5,425 331.0,359 331.5,383 332.0,386 332.5,431 333.0,375 333.5,380 334.0,436 334.5,400 335.0,367 335.5,350 336.0,372 336.5,434 337.0,434 337.5,396 338.0,380 338.5,379 339.0,373 339.5,375 340.0,401 340.5,391 341.0,373 341.5,371 342.0,360 342.5,399 343.0,398 343.5,353 344.0,408 344.5,407 345.0,402 345.5,380 346.0,379 346.5,398 347.0,386 347.5,412 348.0,414 348.5,414 349.0,399 349.5,369 350.0,423 350.5,425 351.0,407 351.5,394 352.0,388 352.5,418 353.0,345 353.5,381 354.0,401 354.5,444 355.0,351 355.5,370 356.0,372 356.5,404 357.0,393 357.5,385 358.0,365 358.5,369 359.0,387 359.5,419 360.0,418 360.5,393 361.0,372 361.5,396 362.0,373 362.5,415 363.0,394 363.5,364 364.0,356 364.5,439 365.0,421 365.5,378 366.0,377 366.5,426 367.0,348 367.5,425 368.0,358 368.5,422 369.0,383 369.5,372 370.0,382 370.5,398 371.0,384 371.5,403 372.0,397 372.5,378 373.0,396 373.5,382 374.0,368 374.5,368 375.0,422 375.5,388 376.0,375 376.5,366 377.0,365 377.5,389 378.0,428 378.5,437 379.0,409 379.5,358 380.0,381 380.5,384 381.0,355 381.5,354 382.0,364 382.5,369 383.0,378 383.5,349 384.0,376 384.5,431 385.0,430 385.5,418 386.0,384 386.5,371 387.0,410 387.5,407 388.0,427 388.5,365 389.0,364 389.5,377 390.0,379 390.5,370 391.0,394 391.5,386 392.0,434 392.5,394 393.0,358 393.5,381 394.0,392 394.5,428 395.0,420 395.5,415 396.0,369 396.5,356 397.0,354 397.5,382 398.0,422 398.5,404 399.0,381 399.5,371 400.0,398 400.5,413 401.0,394 401.5,398 402.0,374 402.5,364 403.0,437 403.5,433 404.0,375 404.5,364 405.0,366 405.5,415 406.0,422 406.5,413 407.0,355 407.5,354 408.0,353 408.5,385 409.0,394 409.5,415 410.0,349 410.5,402 411.0,436 411.5,370 412.0,375 412.5,374 413.0,379 413.5,385 414.0,397 414.5,378 415.0,391 415.5,385 416.0,410 416.5,413 417.0,417 417.5,384 418.0,358 418.5,422 419.0,423 419.5,354 420.0,350 420.5,409 421.0,420 421.5,427 422.0,391 422.5,389 423.0,386 423.5,389 424.0,379 424.5,362 425.0,382 425.5,429 426.0,429 426.5,372 427.0,383 427.5,411 428.0,371 428.5,353 429.0,382 429.5,420 430.0,413 430.5,393 431.0,392 431.5,351 432.0,350 432.5,352 433.0,354 433.5,398 434.0,441 434.5,396 435.0,389 435.5,364 436.0,364 436.5,353 437.0,423 437.5,410 438.0,379 438.5,391 439.0,342 439.5,386 440.0,354 440.5,403 441.0,376 441.5,378 442.0,367 442.5,371 443.0,372 443.5,385 444.0,387 444.5,410 445.0,403 445.5,364 446.0,362 446.5,381 447.0,380 447.5,421 448.0,422 448.5,382 449.0,381 449.5,349 450.0,400 450.5,376 451.0,357 451.5,369 452.0,410 452.5,427 453.0,403 453.5,384 454.0,388 454.5,410 455.0,412 455.5,381 456.0,431 456.5,353 457.0,348 457.5,391 458.0,413 458.5,377 459.0,341 459.5,397 460.0,416 460.5,405 461.0,352 461.5,365 462.0,417 462.5,417 463.0,404 463.5,410 464.0,388 464.5,378 465.0,360 465.5,365 466.0,387 466.5,417 467.0,383 467.5,360 468.0,364 468.5,403 469.0,424 469.5,424 470.0,388 470.5,395 471.0,405 471.5,409 472.0,435 472.5,365 473.0,402 473.5,337 474.0,368 474.5,379 475.0,407 475.5,424 476.0,354 476.5,370 477.0,356 477.5,374 478.0,388 478.5,409 479.0,412 479.5,399 480.0,395 480.5,386 481.0,406 481.5,400 482.0,322 482.5,318 483.0,364 483.5,406 484.0,390 484.5,382 485.0,345 485.5,458 486.0,469 486.5,411 487.0,427 487.5,465 488.0,464 488.5,357 489.0,416 489.5,341 490.0,349 490.5,390 491.0,323 491.5,406 492.0,401 492.5,391 493.0,312 493.5,356 494.0,403 494.5,420 495.0,383 495.5,354 496.0,357 496.5,427 497.0,426 497.5,426 498.0,358 498.5,367 499.0,415 499.5,408 500.0,364 500.5,407 501.0,403 501.5,405 502.0,410 502.5,341 503.0,421 503.5,422 504.0,406 504.5,323 505.0,386 505.5,408 506.0,367 506.5,448 507.0,343 507.5,351 508.0,318 508.5,365 509.0,361 509.5,405 510.0,397 510.5,370 511.0,357 511.5,437 512.0,412 512.5,393 513.0,344 513.5,359 514.0,448 514.5,450 515.0,354 515.5,340 516.0,365 516.5,434 517.0,400 517.5,395 518.0,400 518.5,420 519.0,420 519.5,372 520.0,363 520.5,420 521.0,422 521.5,383 522.0,366 522.5,374 523.0,390 523.5,387 524.0,419 524.5,401 525.0,369 525.5,374 526.0,394 526.5,381 527.0,399 527.5,375 528.0,357 528.5,429 529.0,433 529.5,431 530.0,439 530.5,367 531.0,339 531.5,431 532.0,452 532.5,426 533.0,380 533.5,368 534.0,344 534.5,388 535.0,421 535.5,345 536.0,340 536.5,404 537.0,408 537.5,440 538.0,437 538.5,410 539.0,376 539.5,406 540.0,418 540.5,394 541.0,352 541.5,354 542.0,355 542.5,397 543.0,410 543.5,408 544.0,405 544.5,408 545.0,388 545.5,375 546.0,389 546.5,366 547.0,367 547.5,385 548.0,417 548.5,387 549.0,389 549.5,386 550.0,414 550.5,413 551.0,387 551.5,372 552.0,378 552.5,382 553.0,408 553.5,393 554.0,400 554.5,388 555.0,375 555.5,408 556.0,411 556.5,373 557.0,365 557.5,365 558.0,403 558.5,414 559.0,389 559.5,384 560.0,388 560.5,364 561.0,387 561.5,418 562.0,394 562.5,382 563.0,359 563.5,358 564.0,421 564.5,394 565.0,366 565.5,363 566.0,367 566.5,416 567.0,405 567.5,420 568.0,386 568.5,370 569.0,370 569.5,374 570.0,383 570.5,365 571.0,389 571.5,421 572.0,404 572.5,393 573.0,381 573.5,403 574.0,383 574.5,404 575.0,355 575.5,359 576.0,360 576.5,388 577.0,410 577.5,407 578.0,366 578.5,372 579.0,399 579.5,411 580.0,376 580.5,386 581.0,384 581.5,375 582.0,409 582.5,422 583.0,409 583.5,367 584.0,382 584.5,388 585.0,393 585.5,412 586.0,392 586.5,410 587.0,399 587.5,396 588.0,372 588.5,381 589.0,390 589.5,407 590.0,387 590.5,352 591.0,389 591.5,420 592.0,419 592.5,398 593.0,389 593.5,393 594.0,391 594.5,387 595.0,398 595.5,411 596.0,410 596.5,395 597.0,389 597.5,407 598.0,400 598.5,388 599.0,405 599.5,374 600.0,367 600.5,376 601.0,402 601.5,407 602.0,407 602.5,407 603.0,384 603.5,390 604.0,378 604.5,383 605.0,376 605.5,387 606.0,380 606.5,380 607.0,371 607.5,392 608.0,387 608.5,382 609.0,364 609.5,383 610.0,389 610.5,409 611.0,414 611.5,391 612.0,388 612.5,387 613.0,383 613.5,376 614.0,380 614.5,391 615.0,390 615.5,412 616.0,403 616.5,411 617.0,411 617.5,410 618.0,355 618.5,362 619.0,365 619.5,367 620.0,392 620.5,394 621.0,388 621.5,377 622.0,390 622.5,393 623.0,395 623.5,392 624.0,378 624.5,390 625.0,410 625.5,403 626.0,390 626.5,390 627.0,389 627.5,385 628.0,415 628.5,411 629.0,402 629.5,417 630.0,401 630.5,419 631.0,388 631.5,357 632.0,384 632.5,382 633.0,422 633.5,417 634.0,402 634.5,383 635.0,371 635.5,389 636.0,375 636.5,389 637.0,389 637.5,377 638.0,390 638.5,389 639.0,391 639.5,395 640.0,386 640.5,374 641.0,374 641.5,375 642.0,380 642.5,393 643.0,404 643.5,409 644.0,395 644.5,389 645.0,388 645.5,403 646.0,395 646.5,389 647.0,375 647.5,371 648.0,380 648.5,402 649.0,401 649.5,393 650.0,391 650.5,385 651.0,366 651.5,370 652.0,380 652.5,391 653.0,400 653.5,385 654.0,388 654.5,394 655.0,388 655.5,378 656.0,391 656.5,392 657.0,389 657.5,390 658.0,390 658.5,387 659.0,377 659.5,377 660.0,377 660.5,388 661.0,402 661.5,399 662.0,390 662.5,385 663.0,401 663.5,393 664.0,402 664.5,387 665.0,389 665.5,390 666.0,385 666.5,389 667.0,382 667.5,383 668.0,386 668.5,390 669.0,387 669.5,385 670.0,403 670.5,403 671.0,403 671.5,396 672.0,389 672.5,382 673.0,377 673.5,377 674.0,388 674.5,403 675.0,403 675.5,397 676.0,388 676.5,377 677.0,383 677.5,390 678.0,401 678.5,389 679.0,377 679.5,388 680.0,390 680.5,390 681.0,396 681.5,389 682.0,384 682.5,377 683.0,388 683.5,385 684.0,389 684.5,395 685.0,404 685.5,404 686.0,397 686.5,377 687.0,381 687.5,392 688.0,400 688.5,389 689.0,388 689.5,377 690.0,377 690.5,389 691.0,395 691.5,404 692.0,404 692.5,389 693.0,377 693.5,376 694.0,393 694.5,393 695.0,384 695.5,386 696.0,389 696.5,387 697.0,395 697.5,392 698.0,384 698.5,384 699.0,392 699.5,393 700.0,376 700.5,376 701.0,376 701.5,389 702.0,405 702.5,405 703.0,389 703.5,379 704.0,376 704.5,376 705.0,387 705.5,385 706.0,382 706.5,388 707.0,389 707.5,376 708.0,376 708.5,387 709.0,391 709.5,384 710.0,387 710.5,376 711.0,379 711.5,407 712.0,393 712.5,388 713.0,380 713.5,382 714.0,378 714.5,387 715.0,389 715.5,389 716.0,408 716.5,390 717.0,375 717.5,385 718.0,408 718.5,408 719.0,389 719.5,374 720.0,374 720.5,400 721.0,406 721.5,391 722.0,390 722.5,375 723.0,372 723.5,374 724.0,382 724.5,389 725.0,386 725.5,390 726.0,397 726.5,403 727.0,403 727.5,396 728.0,376 728.5,377 729.0,387 729.5,387 730.0,394 730.5,386 731.0,391 731.5,389 732.0,397 732.5,405 733.0,391 733.5,401 734.0,397 734.5,393 735.0,389 735.5,390 736.0,405 736.5,388 737.0,389 737.5,370 738.0,378 738.5,376 739.0,374 739.5,375 740.0,384 740.5,392 741.0,399 741.5,388 742.0,387 742.5,381 743.0,389 743.5,396 744.0,391 744.5,389 745.0,381 745.5,389 746.0,398 746.5,390 747.0,387 747.5,392 748.0,384 748.5,381 749.0,383 749.5,385 750.0,384 750.5,402 751.0,400 751.5,382 752.0,381 752.5,379 753.0,391 753.5,404 754.0,398 754.5,391 755.0,389 755.5,379 756.0,381 756.5,388 757.0,389 757.5,389 758.0,395 758.5,387 759.0,383 759.5,385 760.0,389 760.5,401 761.0,401 761.5,390 762.0,390 762.5,397 763.0,400 763.5,400 764.0,381 764.5,382 765.0,381 765.5,380 766.0,380 766.5,382 767.0,379 767.5,390 768.0,393 768.5,403 769.0,402 769.5,378 770.0,374 770.5,389 771.0,396 771.5,405 772.0,399 772.5,389 773.0,407 773.5,369 774.0,382 774.5,385 775.0,383 775.5,380 776.0,386 776.5,394 777.0,401 777.5,405 778.0,389 778.5,393 779.0,388 779.5,384 780.0,387 780.5,381 781.0,397 781.5,403 782.0,402 782.5,392 783.0,383 783.5,384 784.0,390 784.5,392 785.0,397 785.5,389 786.0,386 786.5,388 787.0,389 787.5,391 788.0,385 788.5,390 789.0,389 789.5,389 790.0,389 790.5,388 791.0,400 791.5,400 792.0,400 792.5,387 793.0,373 793.5,372 794.0,372 794.5,378 795.0,398 795.5,390 796.0,382 796.5,389 797.0,389 797.5,386 798.0,388 798.5,388 799.0,387 799.5,386 800.0,391 800.5,397 801.0,400 801.5,387 802.0,374 802.5,392 803.0,398 803.5,389 804.0,387 804.5,389 805.0,389 805.5,405 806.0,390 806.5,405 807.0,405 807.5,389 808.0,384 808.5,381 809.0,402 809.5,404 810.0,404 810.5,393 811.0,388 811.5,382 812.0,382 812.5,389 813.0,385 813.5,388 814.0,395 814.5,400 815.0,398 815.5,402 816.0,402 816.5,394 817.0,387 817.5,386 818.0,385 818.5,388 819.0,390 819.5,391 820.0,392 820.5,386 821.0,381 821.5,388 822.0,397 822.5,402 823.0,402 823.5,392 824.0,398 824.5,397 825.0,388 825.5,385 826.0,386 826.5,398 827.0,403 827.5,403 828.0,403 828.5,403 829.0,387 829.5,389 830.0,390 830.5,392 831.0,389 831.5,384 832.0,389 832.5,391 833.0,403 833.5,378 834.0,378 834.5,377 835.0,377 835.5,388 836.0,389 836.5,389 837.0,394 837.5,390 838.0,394 838.5,383 839.0,378 839.5,377 840.0,377 840.5,376 841.0,397 841.5,391 842.0,393 842.5,376 843.0,388 843.5,389 844.0,400 844.5,397 845.0,390 845.5,388 846.0,377 846.5,388 847.0,395 847.5,390 848.0,399 848.5,393 849.0,378 849.5,385 850.0,389 850.5,389 851.0,378 851.5,378 852.0,385 852.5,386 853.0,380 853.5,398 854.0,395 854.5,389 855.0,384 855.5,380 856.0,381 856.5,389 857.0,397 857.5,394 858.0,396 858.5,397 859.0,389 859.5,384 860.0,383 860.5,390 861.0,397 861.5,390 862.0,388 862.5,388 863.0,387 863.5,383 864.0,390 864.5,397 865.0,397 865.5,397 866.0,387 866.5,388 867.0,387 867.5,395 868.0,389 868.5,397 869.0,389 869.5,393 870.0,389 870.5,397 871.0,387 871.5,383 872.0,385 872.5,381 873.0,389 873.5,386 874.0,392 874.5,396 875.0,380 875.5,387 876.0,386 876.5,396 877.0,384 877.5,387 878.0,397 878.5,390 879.0,379 879.5,380 880.0,385 880.5,393 881.0,403 881.5,401 882.0,390 882.5,392 883.0,386 883.5,382 884.0,388 884.5,393 885.0,389 885.5,398 886.0,389 886.5,386 887.0,387 887.5,389 888.0,386 888.5,384 889.0,384 889.5,388 890.0,396 890.5,389 891.0,389 891.5,389 892.0,393 892.5,393 893.0,396 893.5,388 894.0,389 894.5,396 895.0,396 895.5,392 896.0,392 896.5,385 897.0,383 897.5,383 898.0,383 898.5,390 899.0,396 899.5,390 900.0,385 900.5,383 901.0,383 901.5,388 902.0,392 902.5,392 903.0,396 903.5,390 904.0,390 904.5,389 905.0,384 905.5,384 906.0,384 906.5,387 907.0,389 907.5,388 908.0,387 908.5,389 909.0,387 909.5,386 910.0,388 910.5,395 911.0,394 911.5,389 912.0,388 912.5,389 913.0,389 913.5,396 914.0,389 914.5,396 915.0,395 915.5,395 916.0,394 916.5,388 917.0,383 917.5,387 918.0,386 918.5,391 919.0,387 919.5,391 920.0,387 920.5,383 921.0,390 921.5,390 922.0,387 922.5,389 923.0,390 923.5,395 924.0,381 924.5,391 925.0,394 925.5,394 926.0,394 926.5,394 927.0,387 927.5,382 928.0,386 928.5,391 929.0,394 929.5,394 930.0,392 930.5,393 931.0,388 931.5,383 932.0,388 932.5,388 933.0,392 933.5,389 934.0,388 934.5,388 935.0,389 935.5,390 936.0,390 936.5,391 937.0,385 937.5,385 938.0,389 938.5,384 939.0,389 939.5,389 940.0,390 940.5,393 941.0,392 941.5,394 942.0,384 942.5,384 943.0,389 943.5,393 944.0,394 944.5,394 945.0,394 945.5,394 946.0,390 946.5,392 947.0,383 947.5,383 948.0,387 948.5,393 949.0,389 949.5,385 950.0,388 950.5,384 951.0,390 951.5,389 952.0,391 952.5,389 953.0,387 953.5,388 954.0,381 954.5,393 955.0,391 955.5,389 956.0,393 956.5,391 957.0,388 957.5,389 958.0,382 958.5,391 959.0,390 959.5,393 960.0,393 960.5,387 961.0,387 961.5,388 962.0,389 962.5,385 963.0,382 963.5,385 964.0,386 964.5,388 965.0,388 965.5,386 966.0,383 966.5,383 967.0,384 967.5,389 968.0,394 968.5,394 969.0,383 969.5,383 970.0,383 970.5,390 971.0,395 971.5,395 972.0,389 972.5,386 973.0,384 973.5,395 974.0,394 974.5,391 975.0,389 975.5,388 976.0,388 976.5,389 977.0,392 977.5,396 978.0,390 978.5,385 979.0,379 979.5,389 980.0,392 980.5,395 981.0,389 981.5,389 982.0,387 982.5,388 983.0,381 983.5,388 984.0,388 984.5,391 985.0,393 985.5,388 986.0,389 986.5,393 987.0,395 987.5,395 988.0,393 988.5,382 989.0,382" stroke="#800080" fill="none" shape-rendering="crispEdges"/>
<rect x="84.5" y="308.5" width="905" height="165" fill="none" stroke="#000"/>
<path d="M98.5 473v-4M98.5 309v3M130.5 473v-7M130.5 309v6M161.5 473v-4M161.5 309v3M192.5 473v-4M192.5 309v3M223.5 473v-4M223.5 309v3M255.5 473v-7M255.5 309v6M286.5 473v-4M286.5 309v3M317.5 473v-4M317.5 309v3M348.5 473v-4M348.5 309v3M380.5 473v-7M380.5 309v6M411.5 473v-4M411.5 309v3M442.5 473v-4M442.5 309v3M473.5 473v-4M473.5 309v3M505.5 473v-7M505.5 309v6M536.5 473v-4M536.5 309v3M567.5 473v-4M567.5 309v3M598.5 473v-4M598.5 309v3M630.5 473v-7M630.5 309v6M661.5 473v-4M661.5 309v3M692.5 473v-4M692.5 309v3M723.5 473v-4M723.5 309v3M755.5 473v-7M755.5 309v6M786.5 473v-4M786.5 309v3M817.5 473v-4M817.5 309v3M848.5 473v-4M848.5 309v3M880.5 473v-7M880.5 309v6M911.5 473v-4M911.5 309v3M942.5 473v-4M942.5 309v3M973.5 473v-4M973.5 309v3" stroke="#000" fill="none"/>
<path d="M85 454.5h5M989 454.5h-8M85 432.5h5M989 432.5h-8M85 410.5h5M989 410.5h-8M85 388.5h5M989 388.5h-8M85 367.5h5M989 367.5h-8M85 345.5h5M989 345.5h-8M85 323.5h5M989 323.5h-8M85 465.5h3M989 465.5h-4M85 460.5h3M989 460.5h-4M85 449.5h3M989 449.5h-4M85 443.5h3M989 443.5h-4M85 438.5h3M989 438.5h-4M85 427.5h3M989 427.5h-4M85 421.5h3M989 421.5h-4M85 416.5h3M989 416.5h-4M85 405.5h3M989 405.5h-4M85 399.5h3M989 399.5h-4M85 394.5h3M989 394.5h-4M85 383.5h3M989 383.5h-4M85 377.5h3M989 377.5h-4M85 372.5h3M989 372.5h-4M85 361.5h3M989 361.5h-4M85 356.5h3M989 356.5h-4M85 350.5h3M989 350.5h-4M85 339.5h3M989 339.5h-4M85 334.5h3M989 334.5h-4M85 328.5h3M989 328.5h-4M85 317.5h3M989 317.5h-4M85 312.5h3M989 312.5h-4" stroke="#000" fill="none"/>
<text x="78.7" y="330.1" font-size="20.8" text-anchor="end" >60</text>
<text x="78.7" y="352.0" font-size="20.8" text-anchor="end" >40</text>
<text x="78.7" y="373.9" font-size="20.8" text-anchor="end" >20</text>
<text x="78.7" y="395.8" font-size="20.8" text-anchor="end" >0</text>
<text x="78.7" y="417.7" font-size="20.8" text-anchor="end" >-20</text>
<text x="78.7" y="439.6" font-size="20.8" text-anchor="end" >-40</text>
<text x="78.7" y="461.5" font-size="20.8" text-anchor="end" >-60</text>
<text x="130.5" y="495" font-size="20" text-anchor="middle" >-[2]</text>
<text x="255.5" y="495" font-size="20" text-anchor="middle" >[0]</text>
<text x="380.5" y="495" font-size="20" text-anchor="middle" >+[2]</text>
<text x="505.5" y="495" font-size="20" text-anchor="middle" >+[4]</text>
<text x="630.5" y="495" font-size="20" text-anchor="middle" >+[6]</text>
<text x="755.5" y="495" font-size="20" text-anchor="middle" >+[8]</text>
<text x="880.5" y="495" font-size="20" text-anchor="middle" >+[10]</text>
<text x="84" y="519" font-size="20" text-anchor="start" textLength="289" lengthAdjust="spacingAndGlyphs">03/11/2009 05:30:00 [Minuten]</text>
<text x="533.5" y="515.1" font-size="20" text-anchor="middle" >time</text>
<text transform="translate(16,427) rotate(-90)" font-size="16">band pass</text>
<polyline points="84.0,554.3 85.0,554.3 86.0,554.3 87.0,554.3 88.0,554.3 89.0,554.3 90.0,554.3 91.0,554.3 92.0,554.3 93.0,554.3 94.0,554.3 95.0,554.3 96.0,554.3 97.0,554.3 98.0,554.3 99.0,554.3 100.0,554.3 101.0,554.3 102.0,554.3 103.0,554.3 104.0,554.3 105.0,554.3 106.0,554.3 107.0,554.3 108.0,554.3 109.0,554.3 110.0,555.2 111.0,555.2 112.0,555.2 113.0,555.2 114.0,555.2 115.0,555.2 116.0,555.2 117.0,555.2 118.0,555.2 119.0,555.2 120.0,555.2 121.0,555.2 122.0,555.2 123.0,555.2 124.0,555.2 125.0,555.2 126.0,555.2 127.0,555.2 128.0,555.2 129.0,555.2 130.0,555.2 131.0,555.2 132.0,555.2 133.0,555.2 134.0,555.2 135.0,555.2 136.0,555.2 137.0,555.2 138.0,555.2 139.0,555.2 140.0,555.2 141.0,555.2 142.0,555.2 143.0,555.2 144.0,555.2 145.0,555.2 146.0,555.2 147.0,555.2 148.0,555.2 149.0,555.2 150.0,555.2 151.0,555.2 152.0,555.2 153.0,555.2 154.0,555.2 155.0,555.2 156.0,555.2 157.0,555.2 158.0,555.2 159.0,555.2 160.0,555.2 161.0,555.2 162.0,555.2 163.0,555.2 164.0,555.2 165.0,555.2 166.0,555.2 167.0,555.2 168.0,555.2 169.0,555.2 170.0,555.2 171.0,555.2 172.0,555.2 173.0,555.2 174.0,555.2 175.0,555.2 176.0,555.2 177.0,555.2 178.0,555.2 179.0,555.2 180.0,555.2 181.0,555.2 182.0,555.2 183.0,555.2 184.0,555.2 185.0,555.2 186.0,555.2 187.0,555.2 188.0,555.2 189.0,555.2 190.0,555.2 191.0,555.2 192.0,555.2 193.0,555.2 194.0,555.2 195.0,555.2 196.0,555.2 197.0,555.2 198.0,555.2 199.0,555.2 200.0,555.2 201.0,555.2 202.0,555.2 203.0,555.2 204.0,555.2 205.0,555.2 206.0,555.2 207.0,555.2 208.0,555.2 209.0,555.2 210.0,555.2 211.0,555.2 212.0,555.2 213.0,555.2 214.0,555.2 215.0,555.2 216.0,555.2 217.0,555.2 218.0,555.2 219.0,555.2 220.0,555.2 221.0,555.2 222.0,555.2 223.0,555.2 224.0,555.2 225.0,555.2 226.0,555.2 227.0,555.2 228.0,555.2 229.0,555.2 230.0,555.2 231.0,555.2 232.0,555.2 233.0,555.2 234.0,555.2 235.0,555.2 236.0,554.3 237.0,554.3 238.0,554.3 239.0,554.3 240.0,554.3 241.0,554.3 242.0,554.3 243.0,554.3 244.0,554.3 245.0,554.3 246.0,554.3 247.0,554.3 248.0,554.3 249.0,554.3 250.0,554.3 251.0,554.3 252.0,554.3 253.0,554.3 254.0,554.3 255.0,554.3 256.0,554.3 257.0,554.3 258.0,554.3 259.0,554.3 260.0,554.3 261.0,554.3 262.0,554.3 263.0,554.3 264.0,554.3 265.0,554.3 266.0,554.3 267.0,554.3 268.0,554.3 269.0,554.3 270.0,554.3 271.0,554.3 272.0,554.3 273.0,554.3 274.0,554.3 275.0,554.3 276.0,554.3 277.0,554.3 278.0,554.3 279.0,554.3 280.0,554.3 281.0,554.3 282.0,554.3 283.0,554.3 284.0,554.3 285.0,554.3 286.0,554.3 287.0,554.3 288.0,554.3 289.0,554.3 290.0,554.3 291.0,554.3 292.0,554.3 293.0,554.3 294.0,554.3 295.0,554.3 296.0,554.3 297.0,554.3 298.0,554.3 299.0,554.3 300.0,554.3 301.0,554.3 302.0,554.3 303.0,554.3 304.0,554.3 305.0,554.3 306.0,554.3 307.0,554.3 308.0,554.3 309.0,554.3 310.0,554.3 311.0,554.3 312.0,554.3 313.0,554.3 314.0,554.3 315.0,554.3 316.0,554.3 317.0,554.3 318.0,554.3 319.0,554.3 320.0,554.3 321.0,554.3 322.0,554.3 323.0,554.3 324.0,554.3 325.0,554.3 326.0,554.3 327.0,554.3 328.0,554.3 329.0,554.3 330.0,554.3 331.0,554.3 332.0,553.3 333.0,553.3 334.0,553.3 335.0,553.3 336.0,553.3 337.0,553.3 338.0,553.3 339.0,553.3 340.0,553.3 341.0,553.3 342.0,553.3 343.0,553.3 344.0,553.3 345.0,553.3 346.0,553.3 347.0,553.3 348.0,553.3 349.0,553.3 350.0,554.3 351.0,554.3 352.0,554.3 353.0,554.3 354.0,554.3 355.0,554.3 356.0,554.3 357.0,554.3 358.0,554.3 359.0,554.3 360.0,554.3 361.0,554.3 362.0,554.3 363.0,554.3 364.0,554.3 365.0,554.3 366.0,554.3 367.0,554.3 368.0,554.3 369.0,554.3 370.0,554.3 371.0,554.3 372.0,554.3 373.0,554.3 374.0,554.3 375.0,554.3 376.0,554.3 377.0,554.3 378.0,554.3 379.0,554.3 380.0,554.3 381.0,554.3 382.0,554.3 383.0,554.3 384.0,554.3 385.0,554.3 386.0,554.3 387.0,554.3 388.0,554.3 389.0,554.3 390.0,554.3 391.0,554.3 392.0,554.3 393.0,555.2 394.0,555.2 395.0,555.2 396.0,555.2 397.0,555.2 398.0,555.2 399.0,555.2 400.0,555.2 401.0,555.2 402.0,555.2 403.0,555.2 404.0,555.2 405.0,554.3 406.0,554.3 407.0,554.3 408.0,554.3 409.0,554.3 410.0,554.3 411.0,554.3 412.0,554.3 413.0,554.3 414.0,554.3 415.0,554.3 416.0,554.3 417.0,554.3 418.0,554.3 419.0,554.3 420.0,554.3 421.0,554.3 422.0,554.3 423.0,554.3 424.0,554.3 425.0,554.3 426.0,554.3 427.0,554.3 428.0,554.3 429.0,554.3 430.0,554.3 431.0,554.3 432.0,554.3 433.0,554.3 434.0,554.3 435.0,555.0 436.0,555.0 437.0,555.0 438.0,555.0 439.0,555.0 440.0,555.0 441.0,555.0 442.0,555.0 443.0,555.0 444.0,555.0 445.0,555.0 446.0,555.0 447.0,555.0 448.0,555.0 449.0,555.0 450.0,555.0 451.0,555.0 452.0,555.0 453.0,555.0 454.0,555.0 455.0,555.0 456.0,555.0 457.0,555.0 458.0,555.0 459.0,555.0 460.0,555.0 461.0,555.0 462.0,555.0 463.0,555.0 464.0,555.0 465.0,555.0 466.0,555.0 467.0,555.0 468.0,555.0 469.0,555.0 470.0,555.0 471.0,555.0 472.0,555.6 473.0,556.2 474.0,556.0 475.0,555.7 476.0,555.5 477.0,555.7 478.0,555.9 479.0,556.1 480.0,556.4 481.0,556.6 482.0,556.8 483.0,557.0 484.0,557.2 485.0,556.8 486.0,556.4 487.0,556.0 488.0,555.6 489.0,555.6 490.0,555.6 491.0,555.6 492.0,555.6 493.0,555.6 494.0,555.6 495.0,555.6 496.0,555.6 497.0,555.6 498.0,555.6 499.0,555.6 500.0,555.6 501.0,555.6 502.0,555.6 503.0,555.6 504.0,555.6 505.0,555.6 506.0,555.6 507.0,555.6 508.0,555.6 509.0,555.6 510.0,555.6 511.0,555.6 512.0,555.6 513.0,555.6 514.0,555.6 515.0,555.6 516.0,555.6 517.0,555.6 518.0,555.6 519.0,555.6 520.0,555.6 521.0,555.6 522.0,555.6 523.0,555.6 524.0,557.0 525.0,557.0 526.0,557.0 527.0,557.0 528.0,557.0 529.0,557.0 530.0,557.0 531.0,557.0 532.0,557.0 533.0,557.0 534.0,557.0 535.0,557.0 536.0,557.0 537.0,557.0 538.0,557.0 539.0,557.0 540.0,557.0 541.0,557.0 542.0,557.0 543.0,557.0 544.0,557.0 545.0,557.0 546.0,557.0 547.0,557.0 548.0,557.0 549.0,557.0 550.0,557.0 551.0,556.9 552.0,556.7 553.0,556.6 554.0,556.4 555.0,556.3 556.0,556.2 557.0,556.0 558.0,555.9 559.0,555.7 560.0,555.6 561.0,555.0 562.0,554.3 563.0,553.7 564.0,554.7 565.0,555.6 566.0,556.6 567.0,556.6 568.0,556.6 569.0,556.6 570.0,556.6 571.0,556.6 572.0,556.6 573.0,556.6 574.0,556.6 575.0,556.6 576.0,556.6 577.0,556.6 578.0,556.6 579.0,556.6 580.0,556.6 581.0,556.6 582.0,556.6 583.0,556.6 584.0,556.6 585.0,556.6 586.0,556.6 587.0,557.0 588.0,557.4 589.0,557.8 590.0,558.2 591.0,558.2 592.0,558.2 593.0,558.2 594.0,558.2 595.0,558.2 596.0,558.2 597.0,558.2 598.0,558.2 599.0,558.2 600.0,558.2 601.0,558.1 602.0,558.0 603.0,557.8 604.0,557.7 605.0,557.6 606.0,557.6 607.0,557.6 608.0,557.6 609.0,557.6 610.0,557.6 611.0,557.6 612.0,557.6 613.0,557.6 614.0,557.6 615.0,557.6 616.0,557.6 617.0,557.6 618.0,557.6 619.0,557.6 620.0,557.6 621.0,557.6 622.0,557.6 623.0,557.6 624.0,557.6 625.0,557.6 626.0,557.9 627.0,558.2 628.0,558.4 629.0,558.7 630.0,559.0 631.0,559.0 632.0,559.0 633.0,559.0 634.0,559.0 635.0,559.0 636.0,559.0 637.0,559.0 638.0,559.0 639.0,559.0 640.0,559.0 641.0,559.0 642.0,559.0 643.0,559.0 644.0,559.0 645.0,559.0 646.0,559.0 647.0,559.0 648.0,559.0 649.0,559.0 650.0,559.0 651.0,558.7 652.0,559.3 653.0,559.5 654.0,559.0 655.0,559.5 656.0,559.6 657.0,558.9 658.0,559.4 659.0,559.3 660.0,559.4 661.0,559.6 662.0,559.2 663.0,559.1 664.0,559.2 665.0,559.3 666.0,559.7 667.0,560.1 668.0,559.7 669.0,559.6 670.0,559.7 671.0,560.2 672.0,559.9 673.0,560.0 674.0,559.9 675.0,560.1 676.0,560.0 677.0,560.6 678.0,560.3 679.0,560.7 680.0,560.5 681.0,560.4 682.0,559.9 683.0,560.4 684.0,560.2 685.0,560.8 686.0,560.6 687.0,560.7 688.0,560.5 689.0,561.0 690.0,559.9 691.0,560.8 692.0,560.5 693.0,560.3 694.0,560.4 695.0,560.6 696.0,560.8 697.0,561.0 698.0,560.5 699.0,560.5 700.0,561.1 701.0,561.1 702.0,560.4 703.0,560.5 704.0,560.9 705.0,560.7 706.0,561.0 707.0,560.6 708.0,560.6 709.0,561.9 710.0,561.3 711.0,561.4 712.0,561.1 713.0,560.7 714.0,561.4 715.0,561.5 716.0,560.9 717.0,560.9 718.0,561.2 719.0,561.0 720.0,560.5 721.0,561.3 722.0,561.4 723.0,560.5 724.0,561.7 725.0,560.6 726.0,560.6 727.0,560.7 728.0,560.9 729.0,560.9 730.0,560.3 731.0,560.9 732.0,561.0 733.0,560.6 734.0,560.0 735.0,560.4 736.0,560.5 737.0,561.0 738.0,560.5 739.0,560.8 740.0,561.7 741.0,560.6 742.0,560.5 743.0,560.9 744.0,561.0 745.0,561.0 746.0,560.5 747.0,560.0 748.0,559.7 749.0,560.1 750.0,560.2 751.0,559.9 752.0,559.8 753.0,560.2 754.0,560.1 755.0,560.0 756.0,560.9 757.0,560.5 758.0,559.7 759.0,560.5 760.0,560.0 761.0,559.8 762.0,559.8 763.0,561.0 764.0,560.0 765.0,559.6 766.0,559.9 767.0,560.2 768.0,560.0 769.0,559.8 770.0,559.5 771.0,559.6 772.0,559.3 773.0,559.8 774.0,560.0 775.0,559.9 776.0,559.7 777.0,560.2 778.0,559.9 779.0,559.9 780.0,559.3 781.0,559.5 782.0,559.5 783.0,560.0 784.0,559.6 785.0,559.5 786.0,559.5 787.0,560.1 788.0,559.3 789.0,559.2 790.0,559.6 791.0,559.4 792.0,559.9 793.0,559.8 794.0,559.4 795.0,559.1 796.0,559.1 797.0,559.6 798.0,559.1 799.0,559.1 800.0,557.9 801.0,558.3 802.0,558.6 803.0,558.8 804.0,558.8 805.0,558.5 806.0,557.6 807.0,558.3 808.0,557.9 809.0,557.2 810.0,557.7 811.0,557.8 812.0,558.0 813.0,558.2 814.0,557.9 815.0,557.7 816.0,557.5 817.0,557.6 818.0,557.1 819.0,557.8 820.0,557.5 821.0,557.8 822.0,557.6 823.0,557.1 824.0,557.2 825.0,557.2 826.0,557.3 827.0,556.3 828.0,557.1 829.0,558.3 830.0,557.7 831.0,558.3 832.0,557.6 833.0,557.3 834.0,557.9 835.0,558.0 836.0,557.9 837.0,558.8 838.0,559.0 839.0,558.2 840.0,559.4 841.0,559.0 842.0,558.1 843.0,559.0 844.0,558.7 845.0,558.6 846.0,557.9 847.0,558.8 848.0,558.3 849.0,559.3 850.0,558.1 851.0,558.0 852.0,558.8 853.0,558.1 854.0,559.2 855.0,558.2 856.0,558.9 857.0,558.2 858.0,558.4 859.0,558.7 860.0,558.3 861.0,558.9 862.0,558.3 863.0,559.2 864.0,559.0 865.0,557.9 866.0,559.5 867.0,558.7 868.0,558.2 869.0,558.7 870.0,558.6 871.0,559.0 872.0,559.0 873.0,559.1 874.0,558.0 875.0,558.7 876.0,558.2 877.0,557.7 878.0,558.0 879.0,557.8 880.0,558.4 881.0,558.0 882.0,558.3 883.0,558.0 884.0,558.0 885.0,558.1 886.0,557.5 887.0,557.7 888.0,557.7 889.0,557.5 890.0,557.2 891.0,557.7 892.0,557.8 893.0,558.3 894.0,557.5 895.0,557.4 896.0,556.8 897.0,557.2 898.0,557.7 899.0,558.0 900.0,557.2 901.0,557.7 902.0,557.7 903.0,557.8 904.0,557.1 905.0,556.5 906.0,556.8 907.0,557.2 908.0,556.2 909.0,556.3 910.0,555.8 911.0,555.8 912.0,555.2 913.0,556.3 914.0,555.3 915.0,555.5 916.0,555.5 917.0,555.0 918.0,554.5 919.0,554.8 920.0,554.7 921.0,555.3 922.0,555.0 923.0,555.9 924.0,555.3 925.0,555.9 926.0,555.3 927.0,555.1 928.0,555.9 929.0,556.6 930.0,556.8 931.0,557.0 932.0,556.4 933.0,556.5 934.0,556.9 935.0,556.8 936.0,557.4 937.0,557.6 938.0,557.8 939.0,556.8 940.0,557.7 941.0,549.4 942.0,556.3 943.0,556.0 944.0,555.9 945.0,555.5 946.0,555.9 947.0,554.8 948.0,555.2 949.0,554.1 950.0,554.3 951.0,554.3 952.0,554.3 953.0,553.0 954.0,552.2 955.0,552.8 956.0,550.2 957.0,549.2 958.0,547.9 959.0,547.7 960.0,547.5 961.0,548.9 962.0,550.1 963.0,550.9 964.0,551.7 965.0,553.6 966.0,552.5 967.0,551.3 968.0,549.3 969.0,548.9 970.0,548.5 971.0,549.4 972.0,551.4 973.0,553.6 974.0,553.6 975.0,553.8 976.0,554.1 977.0,554.6 978.0,552.7 979.0,553.5 980.0,554.5 981.0,553.8 982.0,553.0 983.0,554.1 984.0,553.2 985.0,554.3 986.0,554.4 987.0,553.8 988.0,553.4 989.0,554.3" stroke="#009999" stroke-width="1.3" fill="none"/>
<polyline points="684.0,562.4 685.0,562.8 686.0,563.2 687.0,563.6 688.0,563.9 689.0,564.6 690.0,565.1 691.0,565.1 692.0,565.4 693.0,566.2 694.0,566.7 695.0,567.1 696.0,567.8 697.0,568.3 698.0,568.7 699.0,569.2 700.0,569.7 701.0,570.4 702.0,570.7 703.0,571.9 704.0,572.0 705.0,572.9 706.0,573.6 707.0,574.1 708.0,574.8 709.0,575.3 710.0,576.0 711.0,576.9 712.0,577.6 713.0,577.8 714.0,578.9 715.0,579.3 716.0,580.4 717.0,581.2 718.0,581.7 719.0,583.1 720.0,583.3 721.0,584.6 722.0,584.8 723.0,586.0 724.0,586.2 725.0,587.2 726.0,587.7 727.0,588.7 728.0,589.1 729.0,589.9 730.0,590.7 731.0,591.1 732.0,591.9 733.0,592.7 734.0,593.2 735.0,594.1 736.0,594.4 737.0,595.9 738.0,596.4 739.0,596.5 740.0,597.4 741.0,598.1 742.0,599.0 743.0,599.7 744.0,600.7 745.0,601.6 746.0,602.0 747.0,603.1 748.0,603.9 749.0,604.9 750.0,605.6 751.0,606.2 752.0,607.3 753.0,608.5 754.0,608.6 755.0,609.4 756.0,609.7 757.0,610.2 758.0,610.9 759.0,611.4 760.0,612.2 761.0,612.5 762.0,612.8 763.0,614.0 764.0,614.5 765.0,614.9 766.0,615.5 767.0,616.3 768.0,616.8 769.0,617.1 770.0,618.2 771.0,619.0 772.0,619.1 773.0,619.0 774.0,619.6 775.0,619.8 776.0,619.5 777.0,619.5 778.0,619.7 779.0,620.0 780.0,620.0 781.0,620.3 782.0,620.4 783.0,620.3 784.0,620.7 785.0,621.1 786.0,620.5 787.0,620.9 788.0,621.0 789.0,621.0 790.0,621.3 791.0,621.2 792.0,621.6 793.0,621.5 794.0,621.5 795.0,621.8 796.0,621.9 797.0,622.2 798.0,622.1 799.0,622.1 800.0,622.6 801.0,622.4 802.0,622.5 803.0,622.9 804.0,622.6 805.0,622.7 806.0,622.7 807.0,623.4 808.0,622.9 809.0,622.9 810.0,623.0 811.0,623.7 812.0,623.7 813.0,623.4 814.0,623.5 815.0,624.2 816.0,623.7 817.0,624.0 818.0,623.9 819.0,624.7 820.0,624.1 821.0,624.1 822.0,624.5 823.0,624.7 824.0,624.7 825.0,624.7 826.0,624.7 827.0,625.0 828.0,625.7 829.0,625.1 830.0,625.8 831.0,626.1 832.0,626.1 833.0,626.0 834.0,626.3 835.0,626.5 836.0,626.1 837.0,626.6 838.0,626.4 839.0,626.3 840.0,627.1 841.0,626.8 842.0,627.1 843.0,626.9 844.0,627.5 845.0,627.5 846.0,627.4 847.0,627.4 848.0,627.5 849.0,627.8 850.0,627.7 851.0,627.8 852.0,628.2 853.0,628.2 854.0,628.5 855.0,628.6 856.0,628.2 857.0,628.6 858.0,628.5 859.0,628.5 860.0,628.9 861.0,628.9 862.0,629.1 863.0,629.0 864.0,629.3 865.0,629.2 866.0,629.4 867.0,629.6 868.0,629.9 869.0,629.5 870.0,629.3 871.0,629.4 872.0,630.1 873.0,630.3 874.0,630.2 875.0,630.4 876.0,630.1 877.0,630.1 878.0,630.6 879.0,630.5 880.0,630.6 881.0,630.7 882.0,630.6 883.0,630.4 884.0,631.0 885.0,631.0 886.0,631.0 887.0,631.2 888.0,631.6 889.0,631.4 890.0,631.5 891.0,632.0 892.0,632.2 893.0,632.4 894.0,632.5 895.0,632.6 896.0,632.6 897.0,632.4 898.0,633.0 899.0,633.0 900.0,633.6 901.0,633.4 902.0,633.7 903.0,633.9 904.0,633.7 905.0,633.8 906.0,634.5 907.0,634.6 908.0,634.2 909.0,634.6 910.0,635.0 911.0,634.7 912.0,634.9 913.0,635.1 914.0,635.1 915.0,635.2 916.0,634.8 917.0,635.3 918.0,635.5 919.0,635.7 920.0,636.2 921.0,636.4 922.0,636.3 923.0,636.2 924.0,636.0 925.0,636.3 926.0,636.7 927.0,636.5 928.0,636.7 929.0,637.0 930.0,636.7 931.0,636.9 932.0,637.4 933.0,637.3 934.0,637.5 935.0,637.5 936.0,637.4 937.0,637.9 938.0,637.7 939.0,638.0 940.0,638.1 941.0,638.2 942.0,638.0 943.0,638.5 944.0,638.3 945.0,638.7 946.0,638.7 947.0,639.2 948.0,638.9 949.0,639.1 950.0,639.2 951.0,639.0 952.0,639.5 953.0,639.6 954.0,639.6 955.0,639.9 956.0,640.1 957.0,640.2 958.0,640.4 959.0,640.6 960.0,640.8 961.0,640.6 962.0,640.9 963.0,640.9 964.0,641.0 965.0,641.1 966.0,641.1 967.0,641.5 968.0,641.7 969.0,641.6 970.0,641.7 971.0,641.8 972.0,641.8 973.0,642.0 974.0,642.4 975.0,642.2 976.0,643.0 977.0,643.0 978.0,643.1 979.0,643.1 980.0,643.6 981.0,643.5 982.0,644.2 983.0,643.9 984.0,644.2 985.0,644.1 986.0,644.7 987.0,644.7 988.0,644.9 989.0,645.3" stroke="#ff0000" stroke-width="1.3" fill="none"/>
<polyline points="84.0,599.2 85.0,599.2 86.0,599.2 87.0,599.2 88.0,599.2 89.0,599.2 90.0,599.2 91.0,599.2 92.0,599.2 93.0,599.2 94.0,599.2 95.0,599.2 96.0,599.2 97.0,599.2 98.0,599.2 99.0,599.2 100.0,599.2 101.0,599.2 102.0,599.2 103.0,599.2 104.0,599.2 105.0,599.2 106.0,599.2 107.0,599.2 108.0,599.2 109.0,599.2 110.0,599.2 111.0,599.2 112.0,599.2 113.0,599.2 114.0,599.2 115.0,599.2 116.0,599.2 117.0,599.2 118.0,599.2 119.0,599.2 120.0,599.2 121.0,599.2 122.0,599.2 123.0,599.2 124.0,599.2 125.0,599.2 126.0,599.2 127.0,599.2 128.0,599.2 129.0,599.2 130.0,599.2 131.0,599.2 132.0,599.2 133.0,599.2 134.0,599.2 135.0,599.2 136.0,599.2 137.0,599.2 138.0,599.2 139.0,599.2 140.0,599.2 141.0,599.2 142.0,599.2 143.0,599.2 144.0,599.2 145.0,599.2 146.0,599.2 147.0,599.2 148.0,599.2 149.0,599.2 150.0,599.2 151.0,599.2 152.0,599.2 153.0,599.2 154.0,599.2 155.0,599.2 156.0,599.2 157.0,599.2 158.0,599.2 159.0,599.2 160.0,599.2 161.0,599.2 162.0,599.2 163.0,599.2 164.0,599.2 165.0,599.2 166.0,599.2 167.0,599.2 168.0,599.2 169.0,599.2 170.0,599.2 171.0,599.2 172.0,599.2 173.0,599.2 174.0,599.2 175.0,599.2 176.0,599.2 177.0,599.2 178.0,599.2 179.0,599.2 180.0,599.2 181.0,599.2 182.0,599.2 183.0,599.2 184.0,599.2 185.0,599.2 186.0,599.2 187.0,599.2 188.0,599.2 189.0,599.2 190.0,599.2 191.0,599.2 192.0,599.2 193.0,599.2 194.0,599.2 195.0,599.2 196.0,599.2 197.0,599.2 198.0,599.2 199.0,599.2 200.0,599.2 201.0,599.2 202.0,599.2 203.0,599.2 204.0,599.2 205.0,599.2 206.0,599.2 207.0,599.2 208.0,599.2 209.0,599.2 210.0,599.2 211.0,599.2 212.0,599.2 213.0,598.2 214.0,598.2 215.0,598.2 216.0,598.2 217.0,598.2 218.0,598.2 219.0,598.2 220.0,598.2 221.0,598.2 222.0,598.2 223.0,598.2 224.0,598.2 225.0,598.2 226.0,598.2 227.0,598.2 228.0,598.2 229.0,598.2 230.0,598.2 231.0,598.2 232.0,598.2 233.0,598.2 234.0,598.2 235.0,598.2 236.0,598.2 237.0,598.2 238.0,598.2 239.0,598.2 240.0,598.2 241.0,598.2 242.0,598.2 243.0,598.2 244.0,598.2 245.0,598.2 246.0,598.2 247.0,598.2 248.0,598.2 249.0,598.2 250.0,598.2 251.0,598.2 252.0,598.2 253.0,598.2 254.0,598.2 255.0,598.2 256.0,598.2 257.0,598.2 258.0,598.2 259.0,598.2 260.0,598.2 261.0,598.2 262.0,598.2 263.0,598.2 264.0,598.2 265.0,598.2 266.0,598.2 267.0,598.2 268.0,598.2 269.0,598.2 270.0,598.2 271.0,598.2 272.0,598.2 273.0,598.2 274.0,598.2 275.0,598.2 276.0,598.2 277.0,598.2 278.0,598.2 279.0,598.2 280.0,598.2 281.0,598.2 282.0,598.2 283.0,598.2 284.0,598.2 285.0,598.2 286.0,598.2 287.0,598.2 288.0,598.2 289.0,598.2 290.0,598.2 291.0,598.2 292.0,598.2 293.0,598.2 294.0,598.2 295.0,598.2 296.0,598.2 297.0,598.2 298.0,597.4 299.0,597.4 300.0,597.4 301.0,597.4 302.0,597.4 303.0,597.4 304.0,597.4 305.0,597.4 306.0,597.4 307.0,597.4 308.0,597.4 309.0,597.4 310.0,597.4 311.0,597.4 312.0,597.4 313.0,597.4 314.0,597.4 315.0,597.4 316.0,597.4 317.0,597.4 318.0,597.4 319.0,597.4 320.0,597.4 321.0,597.4 322.0,597.4 323.0,597.4 324.0,597.4 325.0,597.4 326.0,597.4 327.0,597.4 328.0,597.4 329.0,597.4 330.0,597.4 331.0,597.4 332.0,597.4 333.0,596.6 334.0,596.6 335.0,596.6 336.0,596.6 337.0,596.6 338.0,596.6 339.0,596.6 340.0,596.6 341.0,596.6 342.0,596.6 343.0,596.6 344.0,596.6 345.0,596.6 346.0,596.6 347.0,596.6 348.0,596.6 349.0,596.6 350.0,596.6 351.0,596.6 352.0,596.6 353.0,596.6 354.0,596.6 355.0,596.6 356.0,596.6 357.0,596.6 358.0,595.7 359.0,595.7 360.0,595.7 361.0,595.7 362.0,595.7 363.0,595.7 364.0,595.7 365.0,595.7 366.0,595.7 367.0,595.7 368.0,595.7 369.0,595.7 370.0,595.7 371.0,595.7 372.0,595.7 373.0,595.7 374.0,595.7 375.0,595.7 376.0,595.7 377.0,595.7 378.0,595.7 379.0,595.7 380.0,595.7 381.0,595.4 382.0,595.0 383.0,594.6 384.0,594.3 385.0,593.9 386.0,593.5 387.0,593.1 388.0,592.7 389.0,592.7 390.0,592.7 391.0,592.7 392.0,592.7 393.0,592.7 394.0,592.7 395.0,592.7 396.0,592.7 397.0,592.7 398.0,592.0 399.0,591.2 400.0,590.5 401.0,589.8 402.0,589.3 403.0,588.7 404.0,588.2 405.0,587.7 406.0,587.1 407.0,586.6 408.0,586.1 409.0,585.6 410.0,585.0 411.0,584.5 412.0,584.0 413.0,583.6 414.0,583.1 415.0,582.7 416.0,582.2 417.0,581.8 418.0,581.4 419.0,580.9 420.0,580.5 421.0,580.0 422.0,579.5 423.0,579.0 424.0,578.6 425.0,578.1 426.0,577.6 427.0,577.1 428.0,576.7 429.0,576.2 430.0,575.7 431.0,575.2 432.0,574.8 433.0,574.4 434.0,573.9 435.0,573.5 436.0,573.0 437.0,572.6 438.0,572.1 439.0,571.7 440.0,571.2 441.0,570.7 442.0,570.2 443.0,569.8 444.0,569.3 445.0,568.8 446.0,568.3 447.0,567.8 448.0,567.4 449.0,566.9 450.0,566.4 451.0,566.1 452.0,565.7 453.0,565.4 454.0,565.0 455.0,564.7 456.0,564.4 457.0,564.0 458.0,563.7 459.0,563.3 460.0,563.0 461.0,562.7 462.0,562.4 463.0,562.1 464.0,561.8 465.0,561.5 466.0,561.3 467.0,561.0 468.0,560.7 469.0,560.4 470.0,560.1 471.0,559.8 472.0,559.5 473.0,559.3 474.0,559.0 475.0,558.7 476.0,558.4 477.0,558.2 478.0,557.9 479.0,557.6 480.0,557.5 481.0,557.4 482.0,557.4 483.0,557.3 484.0,557.2 485.0,556.8 486.0,556.4 487.0,556.0 488.0,555.6 489.0,555.6 490.0,555.6 491.0,555.6 492.0,555.6 493.0,555.5 494.0,555.8 495.0,555.8 496.0,555.5 497.0,555.5 498.0,555.6 499.0,555.0 500.0,555.7 501.0,555.1 502.0,556.4 503.0,555.6 504.0,555.7 505.0,555.7 506.0,555.0 507.0,556.1 508.0,555.4 509.0,556.0 510.0,556.1 511.0,555.9 512.0,554.6 513.0,555.2 514.0,555.5 515.0,555.2 516.0,555.6 517.0,556.2 518.0,556.1 519.0,555.5 520.0,555.2 521.0,555.9 522.0,555.9 523.0,555.5 524.0,556.7 525.0,557.6 526.0,557.7 527.0,557.5 528.0,557.4 529.0,556.9 530.0,557.1 531.0,556.6 532.0,557.7 533.0,556.6 534.0,556.7 535.0,556.9 536.0,556.9 537.0,557.7 538.0,557.4 539.0,556.7 540.0,557.2 541.0,557.2 542.0,557.7 543.0,556.3 544.0,556.8 545.0,556.6 546.0,557.1 547.0,557.4 548.0,556.9 549.0,558.0 550.0,556.6 551.0,557.0 552.0,556.4 553.0,555.9 554.0,556.3 555.0,556.3 556.0,555.8 557.0,555.7 558.0,555.9 559.0,555.4 560.0,556.1 561.0,555.3 562.0,554.4 563.0,554.2 564.0,553.6 565.0,555.2 566.0,557.3 567.0,556.2 568.0,557.1 569.0,556.9 570.0,556.7 571.0,556.5 572.0,556.0 573.0,555.8 574.0,555.7 575.0,556.9 576.0,556.6 577.0,556.8 578.0,556.0 579.0,556.6 580.0,557.2 581.0,556.2 582.0,556.3 583.0,556.4 584.0,557.8 585.0,557.3 586.0,557.7 587.0,558.5 588.0,557.3 589.0,558.0 590.0,556.8 591.0,558.3 592.0,557.9 593.0,558.2 594.0,558.3 595.0,556.9 596.0,558.4 597.0,557.9 598.0,557.4 599.0,557.8 600.0,558.7 601.0,557.7 602.0,558.8 603.0,558.1 604.0,557.7 605.0,557.0 606.0,557.0 607.0,558.2 608.0,557.6 609.0,557.7 610.0,557.7 611.0,558.1 612.0,558.0 613.0,557.3 614.0,557.7 615.0,557.5 616.0,557.9 617.0,556.7 618.0,557.4 619.0,558.3 620.0,556.8 621.0,557.2 622.0,557.7 623.0,556.9 624.0,557.6 625.0,557.7 626.0,558.3 627.0,558.2 628.0,558.5 629.0,558.4 630.0,559.1 631.0,559.1 632.0,559.2 633.0,559.4 634.0,559.4 635.0,559.3 636.0,559.1 637.0,559.0 638.0,558.7 639.0,559.3 640.0,559.6 641.0,558.7 642.0,559.3 643.0,558.9 644.0,558.9 645.0,558.4 646.0,558.8 647.0,559.3 648.0,559.2 649.0,559.4 650.0,558.6 651.0,558.0 652.0,559.5 653.0,559.3 654.0,559.7 655.0,560.4 656.0,560.2 657.0,558.7 658.0,559.6 659.0,559.8 660.0,560.8 661.0,559.7 662.0,559.9 663.0,560.6 664.0,559.3 665.0,559.9 666.0,559.5 667.0,559.7 668.0,560.4 669.0,560.2 670.0,560.2 671.0,560.2 672.0,560.1 673.0,560.3 674.0,560.6 675.0,560.0 676.0,560.4 677.0,560.2 678.0,560.8 679.0,561.0 680.0,560.8 681.0,561.4 682.0,561.3 683.0,561.8 684.0,562.6 685.0,562.6 686.0,563.3 687.0,563.3 688.0,563.1 689.0,563.5 690.0,564.3 691.0,565.5 692.0,564.9 693.0,564.4 694.0,565.5 695.0,565.4 696.0,565.5 697.0,567.4 698.0,567.7 699.0,567.0 700.0,567.3 701.0,567.5 702.0,568.3 703.0,568.6 704.0,569.1 705.0,568.6 706.0,569.3 707.0,570.2 708.0,570.3 709.0,570.0 710.0,571.0 711.0,571.8 712.0,570.9 713.0,572.8 714.0,572.7 715.0,574.0 716.0,574.3 717.0,574.7 718.0,575.1 719.0,575.7 720.0,576.1 721.0,577.0 722.0,577.6 723.0,577.5 724.0,578.3 725.0,578.0 726.0,578.8 727.0,579.5 728.0,580.5 729.0,580.7 730.0,581.2 731.0,581.4 732.0,581.6 733.0,582.8 734.0,583.2 735.0,582.9 736.0,583.7 737.0,584.4 738.0,584.3 739.0,584.8 740.0,585.7 741.0,586.0 742.0,586.8 743.0,586.8 744.0,587.6 745.0,588.0 746.0,589.0 747.0,588.5 748.0,589.2 749.0,589.3 750.0,590.4 751.0,590.9 752.0,591.7 753.0,591.5 754.0,592.3 755.0,592.5 756.0,593.6 757.0,593.4 758.0,593.8 759.0,594.6 760.0,594.8 761.0,595.0 762.0,595.1 763.0,596.3 764.0,597.1 765.0,597.1 766.0,597.8 767.0,597.8 768.0,598.6 769.0,599.1 770.0,599.1 771.0,599.2 772.0,600.0 773.0,600.6 774.0,601.3 775.0,600.8 776.0,602.4 777.0,602.5 778.0,602.7 779.0,602.8 780.0,603.4 781.0,604.2 782.0,604.7 783.0,605.1 784.0,604.9 785.0,605.7 786.0,606.3 787.0,606.7 788.0,607.0 789.0,607.8 790.0,608.6 791.0,608.2 792.0,609.5 793.0,609.2 794.0,609.7 795.0,610.1 796.0,611.2 797.0,611.5 798.0,612.2 799.0,612.0 800.0,612.4 801.0,613.9 802.0,613.8 803.0,613.2 804.0,614.0 805.0,614.8 806.0,615.6 807.0,616.2 808.0,615.6 809.0,616.6 810.0,616.7 811.0,617.0 812.0,617.4 813.0,617.5 814.0,618.0 815.0,618.5 816.0,619.2 817.0,619.0 818.0,620.3 819.0,620.1 820.0,620.9 821.0,620.7 822.0,621.1 823.0,622.3 824.0,622.6 825.0,622.2 826.0,623.4 827.0,623.2 828.0,624.3 829.0,624.9 830.0,625.1 831.0,625.4 832.0,625.9 833.0,626.2 834.0,626.2 835.0,626.9 836.0,626.8 837.0,626.7 838.0,627.4 839.0,628.0 840.0,627.9 841.0,627.6 842.0,627.5 843.0,627.7 844.0,628.4 845.0,628.3 846.0,628.0 847.0,628.4 848.0,628.9 849.0,628.6 850.0,628.7 851.0,628.6 852.0,628.4 853.0,629.3 854.0,629.3 855.0,629.5 856.0,629.7 857.0,629.5 858.0,629.5 859.0,629.8 860.0,629.5 861.0,629.4 862.0,629.9 863.0,630.0 864.0,630.0 865.0,630.4 866.0,630.7 867.0,630.4 868.0,630.1 869.0,630.3 870.0,630.7 871.0,631.0 872.0,631.2 873.0,631.4 874.0,632.0 875.0,631.2 876.0,631.9 877.0,631.7 878.0,631.9 879.0,631.9 880.0,632.4 881.0,632.4 882.0,632.7 883.0,633.0 884.0,632.1 885.0,632.6 886.0,633.0 887.0,633.1 888.0,633.1 889.0,632.9 890.0,633.7 891.0,633.0 892.0,633.7 893.0,633.4 894.0,633.5 895.0,634.0 896.0,633.6 897.0,634.1 898.0,634.1 899.0,633.9 900.0,634.2 901.0,634.4 902.0,634.7 903.0,634.9 904.0,634.3 905.0,634.6 906.0,634.7 907.0,634.7 908.0,635.6 909.0,635.1 910.0,635.3 911.0,635.4 912.0,635.4 913.0,635.9 914.0,635.9 915.0,635.8 916.0,636.0 917.0,636.3 918.0,636.4 919.0,636.6 920.0,636.8 921.0,636.5 922.0,636.5 923.0,636.7 924.0,637.0 925.0,636.9 926.0,637.3 927.0,637.0 928.0,637.4 929.0,637.6 930.0,637.5 931.0,638.0 932.0,638.3 933.0,637.3 934.0,637.9 935.0,638.2 936.0,638.5 937.0,638.2 938.0,638.6 939.0,639.0 940.0,638.9 941.0,638.8 942.0,639.0 943.0,639.3 944.0,639.5 945.0,639.7 946.0,639.7 947.0,639.4 948.0,639.8 949.0,640.1 950.0,640.4 951.0,640.6 952.0,640.5 953.0,640.9 954.0,641.3 955.0,641.2 956.0,641.4 957.0,641.3 958.0,641.3 959.0,641.8 960.0,641.9 961.0,642.2 962.0,642.1 963.0,642.1 964.0,642.2 965.0,642.6 966.0,642.3 967.0,643.2 968.0,642.9 969.0,643.2 970.0,643.3 971.0,643.8 972.0,643.4 973.0,643.9 974.0,644.0 975.0,644.3 976.0,644.3 977.0,644.0 978.0,644.0 979.0,644.0 980.0,644.5 981.0,644.8 982.0,644.8 983.0,644.8 984.0,645.1" stroke="#800080" stroke-width="1.3" fill="none"/>
<rect x="84.5" y="546.5" width="905" height="99" fill="none" stroke="#000"/>
<path d="M175.5 645v-3M175.5 547v2M228.5 645v-3M228.5 547v2M266.5 645v-3M266.5 547v2M295.5 645v-3M295.5 547v2M319.5 645v-3M319.5 547v2M339.5 645v-3M339.5 547v2M356.5 645v-3M356.5 547v2M372.5 645v-3M372.5 547v2M386.5 645v-7M386.5 547v6M476.5 645v-3M476.5 547v2M530.5 645v-3M530.5 547v2M567.5 645v-3M567.5 547v2M597.5 645v-3M597.5 547v2M620.5 645v-3M620.5 547v2M641.5 645v-3M641.5 547v2M658.5 645v-3M658.5 547v2M674.5 645v-3M674.5 547v2M687.5 645v-7M687.5 547v6M778.5 645v-3M778.5 547v2M831.5 645v-3M831.5 547v2M869.5 645v-3M869.5 547v2M898.5 645v-3M898.5 547v2M922.5 645v-3M922.5 547v2M942.5 645v-3M942.5 547v2M960.5 645v-3M960.5 547v2M975.5 645v-3M975.5 547v2" stroke="#000" fill="none"/>
<path d="M85 548.5h5M989 548.5h-8M85 566.5h5M989 566.5h-8M85 584.5h5M989 584.5h-8M85 602.5h5M989 602.5h-8M85 620.5h5M989 620.5h-8M85 638.5h5M989 638.5h-8" stroke="#000" fill="none"/>
<text x="78.5" y="555.0" font-size="20" text-anchor="end" >100</text>
<text x="78.5" y="573.1" font-size="20" text-anchor="end" >1</text>
<text x="78.5" y="591.2" font-size="20" text-anchor="end" >0.01</text>
<text x="67.8" y="609.8" font-size="20" text-anchor="end">10</text>
<text x="79" y="600.8" font-size="12" text-anchor="end">-4</text>
<text x="67.8" y="627.9" font-size="20" text-anchor="end">10</text>
<text x="79" y="618.9" font-size="12" text-anchor="end">-6</text>
<text x="67.8" y="645.9" font-size="20" text-anchor="end">10</text>
<text x="79" y="636.9" font-size="12" text-anchor="end">-8</text>
<text x="84.0" y="667" font-size="20" text-anchor="middle" >0.01</text>
<text x="385.7" y="667" font-size="20" text-anchor="middle" >0.1</text>
<text x="687.3" y="667" font-size="20" text-anchor="middle" >1</text>
<text x="989.0" y="667" font-size="20" text-anchor="middle" >10</text>
<text transform="translate(15,645) rotate(-90)" font-size="14">spectral density</text>
<text x="536.5" y="686.7" font-size="20" text-anchor="middle" >frequency (1/s)</text>
<rect x="635" y="209" width="335" height="124" fill="#fff" stroke="#000" stroke-width="2"/>
<text x="642.5" y="231.2" font-size="15.4" textLength="257.2" lengthAdjust="spacingAndGlyphs">GFZ Potsdam - Earthquake Bulletin</text>
<text x="642.5" y="249" font-size="15.4" textLength="54.1" lengthAdjust="spacingAndGlyphs">Region:</text>
<text x="746.5" y="249" font-size="15.4" textLength="75.5" lengthAdjust="spacingAndGlyphs">Ionian Sea</text>
<text x="642.5" y="266.9" font-size="15.4" textLength="41.1" lengthAdjust="spacingAndGlyphs">Time:</text>
<text x="746.5" y="266.9" font-size="15.4" textLength="216.2" lengthAdjust="spacingAndGlyphs">2009-11-03 05:25:11.5 UTC</text>
<text x="642.5" y="284.9" font-size="15.4" textLength="81.0" lengthAdjust="spacingAndGlyphs">Magnitude:</text>
<text x="746.5" y="284.9" font-size="15.4" textLength="24.6" lengthAdjust="spacingAndGlyphs">5.7</text>
<text x="642.5" y="303.1" font-size="15.4" textLength="73.2" lengthAdjust="spacingAndGlyphs">Epicenter:</text>
<text x="746.5" y="303.1" font-size="15.4" textLength="62.4" lengthAdjust="spacingAndGlyphs">20.52°E</text>
<text x="642.5" y="321" font-size="15.4" textLength="48.9" lengthAdjust="spacingAndGlyphs">Depth:</text>
<text x="746.5" y="321" font-size="15.4" textLength="48.4" lengthAdjust="spacingAndGlyphs">20 km</text>
<text x="823.8" y="303.1" font-size="15.4" textLength="64.2" lengthAdjust="spacingAndGlyphs">37.48°N</text>
</svg></body></html>
